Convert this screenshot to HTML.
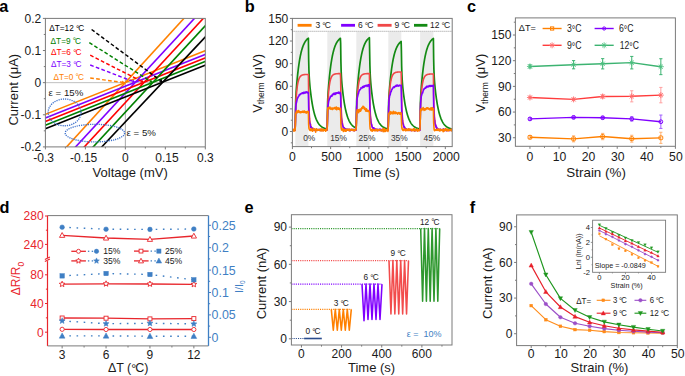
<!DOCTYPE html>
<html><head><meta charset="utf-8"><style>
html,body{margin:0;padding:0;background:#fff;}
svg{display:block;}
text{font-family:"Liberation Sans", sans-serif;}
</style></head><body>
<svg width="685" height="376" viewBox="0 0 685 376" font-family='"Liberation Sans", sans-serif'>
<rect width="685" height="376" fill="#fff"/>
<text x="-0.7" y="11.6" font-size="16.3" text-anchor="start" fill="#000" font-weight="bold" >a</text>
<line x1="125.35" y1="18.4" x2="125.35" y2="146.9" stroke="#a8a8a8" stroke-width="1" />
<line x1="45.4" y1="82.65" x2="205.3" y2="82.65" stroke="#c0c0c0" stroke-width="1" />
<line x1="45.4" y1="146.9" x2="45.4" y2="149.4" stroke="#7a7a7a" stroke-width="1" />
<line x1="65.39" y1="146.9" x2="65.39" y2="148.5" stroke="#7a7a7a" stroke-width="1" />
<line x1="85.38" y1="146.9" x2="85.38" y2="149.4" stroke="#7a7a7a" stroke-width="1" />
<line x1="105.36" y1="146.9" x2="105.36" y2="148.5" stroke="#7a7a7a" stroke-width="1" />
<line x1="125.35" y1="146.9" x2="125.35" y2="149.4" stroke="#7a7a7a" stroke-width="1" />
<line x1="145.34" y1="146.9" x2="145.34" y2="148.5" stroke="#7a7a7a" stroke-width="1" />
<line x1="165.33" y1="146.9" x2="165.33" y2="149.4" stroke="#7a7a7a" stroke-width="1" />
<line x1="185.31" y1="146.9" x2="185.31" y2="148.5" stroke="#7a7a7a" stroke-width="1" />
<line x1="205.3" y1="146.9" x2="205.3" y2="149.4" stroke="#7a7a7a" stroke-width="1" />
<line x1="42.9" y1="146.9" x2="45.4" y2="146.9" stroke="#7a7a7a" stroke-width="1" />
<line x1="43.8" y1="130.84" x2="45.4" y2="130.84" stroke="#7a7a7a" stroke-width="1" />
<line x1="42.9" y1="114.78" x2="45.4" y2="114.78" stroke="#7a7a7a" stroke-width="1" />
<line x1="43.8" y1="98.71" x2="45.4" y2="98.71" stroke="#7a7a7a" stroke-width="1" />
<line x1="42.9" y1="82.65" x2="45.4" y2="82.65" stroke="#7a7a7a" stroke-width="1" />
<line x1="43.8" y1="66.59" x2="45.4" y2="66.59" stroke="#7a7a7a" stroke-width="1" />
<line x1="42.9" y1="50.52" x2="45.4" y2="50.52" stroke="#7a7a7a" stroke-width="1" />
<line x1="43.8" y1="34.46" x2="45.4" y2="34.46" stroke="#7a7a7a" stroke-width="1" />
<line x1="42.9" y1="18.4" x2="45.4" y2="18.4" stroke="#7a7a7a" stroke-width="1" />
<text x="41.3" y="22.6" font-size="12" text-anchor="end" fill="#1a1a1a" font-weight="normal" >0.2</text>
<text x="41.3" y="54.72" font-size="12" text-anchor="end" fill="#1a1a1a" font-weight="normal" >0.1</text>
<text x="41.3" y="86.85" font-size="12" text-anchor="end" fill="#1a1a1a" font-weight="normal" >0</text>
<text x="41.3" y="118.98" font-size="12" text-anchor="end" fill="#1a1a1a" font-weight="normal" >-0.1</text>
<text x="41.3" y="151.1" font-size="12" text-anchor="end" fill="#1a1a1a" font-weight="normal" >-0.2</text>
<text x="43.6" y="162.2" font-size="12" text-anchor="middle" fill="#1a1a1a" font-weight="normal" >-0.3</text>
<text x="83.58" y="162.2" font-size="12" text-anchor="middle" fill="#1a1a1a" font-weight="normal" >-0.15</text>
<text x="125.35" y="162.2" font-size="12" text-anchor="middle" fill="#1a1a1a" font-weight="normal" >0</text>
<text x="166.93" y="162.2" font-size="12" text-anchor="middle" fill="#1a1a1a" font-weight="normal" >0.15</text>
<text x="205.3" y="162.2" font-size="12" text-anchor="middle" fill="#1a1a1a" font-weight="normal" >0.3</text>
<text x="130.2" y="176.9" font-size="13" text-anchor="middle" fill="#1a1a1a" font-weight="normal" >Voltage (mV)</text>
<text x="0" y="0" font-size="13" text-anchor="middle" fill="#1a1a1a" font-weight="normal" transform="translate(17.8,89.7) rotate(-90)">Current (μA)</text>
<clipPath id="ca"><rect x="45.4" y="18.4" width="159.9" height="128.5"/></clipPath>
<g clip-path="url(#ca)">
<line x1="63.77" y1="150" x2="187.02" y2="15" stroke="#ff8000" stroke-width="1.6" />
<line x1="40" y1="116.49" x2="210" y2="48.83" stroke="#ff8000" stroke-width="1.6" />
<line x1="72.73" y1="150" x2="197.61" y2="15" stroke="#8000ff" stroke-width="1.6" />
<line x1="40" y1="120.09" x2="210" y2="52.43" stroke="#8000ff" stroke-width="1.6" />
<line x1="81.43" y1="150" x2="206.44" y2="15" stroke="#ff0000" stroke-width="1.6" />
<line x1="40" y1="123.69" x2="210" y2="56.03" stroke="#ff0000" stroke-width="1.6" />
<line x1="90.33" y1="150" x2="215.21" y2="15" stroke="#008000" stroke-width="1.6" />
<line x1="40" y1="127.29" x2="210" y2="59.63" stroke="#008000" stroke-width="1.6" />
<line x1="98.88" y1="150" x2="226.05" y2="15" stroke="#000000" stroke-width="1.6" />
<line x1="40" y1="130.89" x2="210" y2="63.23" stroke="#000000" stroke-width="1.6" />
</g>
<ellipse cx="64.6" cy="112.4" rx="16.4" ry="13.4" fill="none" stroke="#3f72cc" stroke-width="1.35" stroke-dasharray="1.2 1.0"/>
<ellipse cx="94.9" cy="133.1" rx="29.7" ry="8.8" fill="none" stroke="#3f72cc" stroke-width="1.35" stroke-dasharray="1.2 1.0"/>
<text x="48.6" y="95.5" font-size="9.7" text-anchor="start" fill="#1a1a1a" font-weight="normal" >ε = 15%</text>
<text x="126.6" y="135.6" font-size="9.7" text-anchor="start" fill="#1a1a1a" font-weight="normal" >ε = 5%</text>
<text x="49.2" y="31.15" font-size="8.25" text-anchor="start" fill="#000000" font-weight="normal" >ΔT=12<tspan dx="2.2" dy="0.83" letter-spacing="-1">°</tspan><tspan dy="-0.83">C</tspan></text>
<line x1="91.6" y1="29.5" x2="160.18" y2="80.29" stroke="#000000" stroke-width="1.45" stroke-dasharray="3.7 2.3"/>
<polygon points="162.75,82.19 159.11,81.74 161.25,78.84" fill="#000000"/>
<text x="50.6" y="43.65" font-size="8.25" text-anchor="start" fill="#008000" font-weight="normal" >ΔT=9<tspan dx="2.2" dy="0.83" letter-spacing="-1">°</tspan><tspan dy="-0.83">C</tspan></text>
<line x1="89.3" y1="42.6" x2="149.97" y2="80.9" stroke="#008000" stroke-width="1.45" stroke-dasharray="3.7 2.3"/>
<polygon points="152.67,82.61 149.01,82.42 150.93,79.38" fill="#008000"/>
<text x="51" y="55.35" font-size="8.25" text-anchor="start" fill="#ff0000" font-weight="normal" >ΔT=6<tspan dx="2.2" dy="0.83" letter-spacing="-1">°</tspan><tspan dy="-0.83">C</tspan></text>
<line x1="90.2" y1="55.2" x2="141.11" y2="81.03" stroke="#ff0000" stroke-width="1.45" stroke-dasharray="3.7 2.3"/>
<polygon points="143.96,82.47 140.29,82.63 141.92,79.42" fill="#ff0000"/>
<text x="51" y="67.15" font-size="8.25" text-anchor="start" fill="#8000ff" font-weight="normal" >ΔT=3<tspan dx="2.2" dy="0.83" letter-spacing="-1">°</tspan><tspan dy="-0.83">C</tspan></text>
<line x1="90.2" y1="65" x2="132.37" y2="81.15" stroke="#8000ff" stroke-width="1.45" stroke-dasharray="3.7 2.3"/>
<polygon points="135.36,82.3 131.73,82.83 133.01,79.47" fill="#8000ff"/>
<text x="53.4" y="79.65" font-size="8.25" text-anchor="start" fill="#ff8000" font-weight="normal" >ΔT=0<tspan dx="2.2" dy="0.83" letter-spacing="-1">°</tspan><tspan dy="-0.83">C</tspan></text>
<line x1="90.2" y1="78" x2="122" y2="82.32" stroke="#ff8000" stroke-width="1.45" stroke-dasharray="3.7 2.3"/>
<polygon points="125.17,82.75 121.75,84.11 122.24,80.54" fill="#ff8000"/>
<rect x="45.4" y="18.4" width="159.9" height="128.5" fill="none" stroke="#7a7a7a" stroke-width="1"/>
<text x="244.7" y="11.6" font-size="16.3" text-anchor="start" fill="#000" font-weight="bold" >b</text>
<rect x="295.3" y="31.9" width="13.1" height="114.7" fill="#ebebeb"/>
<rect x="327.3" y="31.9" width="13.3" height="114.7" fill="#ebebeb"/>
<rect x="356.3" y="31.9" width="13.2" height="114.7" fill="#ebebeb"/>
<rect x="388.3" y="31.9" width="13" height="114.7" fill="#ebebeb"/>
<rect x="420.1" y="31.9" width="13.3" height="114.7" fill="#ebebeb"/>
<line x1="292.4" y1="31.3" x2="452.2" y2="31.3" stroke="#8a8a8a" stroke-width="0.9" stroke-dasharray="1 1"/>
<line x1="292.4" y1="146.6" x2="292.4" y2="149.1" stroke="#7a7a7a" stroke-width="1" />
<line x1="311.51" y1="146.6" x2="311.51" y2="148.2" stroke="#7a7a7a" stroke-width="1" />
<line x1="330.63" y1="146.6" x2="330.63" y2="149.1" stroke="#7a7a7a" stroke-width="1" />
<line x1="349.74" y1="146.6" x2="349.74" y2="148.2" stroke="#7a7a7a" stroke-width="1" />
<line x1="368.86" y1="146.6" x2="368.86" y2="149.1" stroke="#7a7a7a" stroke-width="1" />
<line x1="387.97" y1="146.6" x2="387.97" y2="148.2" stroke="#7a7a7a" stroke-width="1" />
<line x1="407.09" y1="146.6" x2="407.09" y2="149.1" stroke="#7a7a7a" stroke-width="1" />
<line x1="426.2" y1="146.6" x2="426.2" y2="148.2" stroke="#7a7a7a" stroke-width="1" />
<line x1="445.32" y1="146.6" x2="445.32" y2="149.1" stroke="#7a7a7a" stroke-width="1" />
<line x1="290.8" y1="142.83" x2="292.4" y2="142.83" stroke="#7a7a7a" stroke-width="1" />
<line x1="289.9" y1="131.52" x2="292.4" y2="131.52" stroke="#7a7a7a" stroke-width="1" />
<line x1="290.8" y1="120.21" x2="292.4" y2="120.21" stroke="#7a7a7a" stroke-width="1" />
<line x1="289.9" y1="108.89" x2="292.4" y2="108.89" stroke="#7a7a7a" stroke-width="1" />
<line x1="290.8" y1="97.58" x2="292.4" y2="97.58" stroke="#7a7a7a" stroke-width="1" />
<line x1="289.9" y1="86.27" x2="292.4" y2="86.27" stroke="#7a7a7a" stroke-width="1" />
<line x1="290.8" y1="74.96" x2="292.4" y2="74.96" stroke="#7a7a7a" stroke-width="1" />
<line x1="289.9" y1="63.65" x2="292.4" y2="63.65" stroke="#7a7a7a" stroke-width="1" />
<line x1="290.8" y1="52.34" x2="292.4" y2="52.34" stroke="#7a7a7a" stroke-width="1" />
<line x1="289.9" y1="41.02" x2="292.4" y2="41.02" stroke="#7a7a7a" stroke-width="1" />
<line x1="290.8" y1="29.71" x2="292.4" y2="29.71" stroke="#7a7a7a" stroke-width="1" />
<line x1="289.9" y1="18.4" x2="292.4" y2="18.4" stroke="#7a7a7a" stroke-width="1" />
<text x="288.3" y="135.72" font-size="12" text-anchor="end" fill="#1a1a1a" font-weight="normal" >0</text>
<text x="288.3" y="113.09" font-size="12" text-anchor="end" fill="#1a1a1a" font-weight="normal" >30</text>
<text x="288.3" y="90.47" font-size="12" text-anchor="end" fill="#1a1a1a" font-weight="normal" >60</text>
<text x="288.3" y="67.85" font-size="12" text-anchor="end" fill="#1a1a1a" font-weight="normal" >90</text>
<text x="288.3" y="45.22" font-size="12" text-anchor="end" fill="#1a1a1a" font-weight="normal" >120</text>
<text x="288.3" y="22.6" font-size="12" text-anchor="end" fill="#1a1a1a" font-weight="normal" >150</text>
<text x="292.4" y="161.4" font-size="12.2" text-anchor="middle" fill="#1a1a1a" font-weight="normal" >0</text>
<text x="331.53" y="161.4" font-size="12.2" text-anchor="middle" fill="#1a1a1a" font-weight="normal" >500</text>
<text x="369.76" y="161.4" font-size="12.2" text-anchor="middle" fill="#1a1a1a" font-weight="normal" >1000</text>
<text x="407.99" y="161.4" font-size="12.2" text-anchor="middle" fill="#1a1a1a" font-weight="normal" >1500</text>
<text x="446.22" y="161.4" font-size="12.2" text-anchor="middle" fill="#1a1a1a" font-weight="normal" >2000</text>
<text x="376.3" y="177.2" font-size="13" text-anchor="middle" fill="#1a1a1a" font-weight="normal" >Time (s)</text>
<text font-size="13" fill="#1a1a1a" text-anchor="middle" transform="translate(261.5,83.4) rotate(-90)">V<tspan font-size="8.5" dy="2.5">therm</tspan><tspan dy="-2.5"> (μV)</tspan></text>
<text x="309.2" y="140.9" font-size="8.4" text-anchor="middle" fill="#333" font-weight="normal" >0%</text>
<text x="338.6" y="140.9" font-size="8.4" text-anchor="middle" fill="#333" font-weight="normal" >15%</text>
<text x="367" y="140.9" font-size="8.4" text-anchor="middle" fill="#333" font-weight="normal" >25%</text>
<text x="399.3" y="140.9" font-size="8.4" text-anchor="middle" fill="#333" font-weight="normal" >35%</text>
<text x="431.9" y="140.9" font-size="8.4" text-anchor="middle" fill="#333" font-weight="normal" >45%</text>
<clipPath id="cb"><rect x="292.4" y="18.4" width="159.8" height="128.2"/></clipPath>
<g clip-path="url(#cb)">
<polyline points="292.4,130.01 292.65,130.01 292.9,130.01 293.15,130.01 293.4,130.01 293.65,130.01 293.9,130.01 294.15,130.01 294.4,130.01 294.65,130.01 294.9,130.01 295.15,130.01 295.4,115.91 295.65,101.33 295.9,95.63 296.15,91.78 296.4,88.43 296.65,85.34 296.9,82.43 297.15,79.7 297.4,77.12 297.65,74.69 297.9,72.4 298.15,70.25 298.4,68.22 298.65,66.3 298.9,64.5 299.15,62.8 299.4,61.2 299.65,59.69 299.9,58.27 300.15,56.93 300.4,55.67 300.65,54.48 300.9,53.36 301.15,52.3 301.4,51.31 301.65,50.37 301.9,49.49 302.15,48.66 302.4,47.87 302.65,47.14 302.9,46.44 303.15,45.78 303.4,45.17 303.65,44.58 303.9,44.04 304.15,43.52 304.4,43.03 304.65,42.57 304.9,42.14 305.15,41.73 305.4,41.35 305.65,40.99 305.9,40.65 306.15,40.33 306.4,40.03 306.65,39.74 306.9,39.47 307.15,39.22 307.4,38.98 307.65,38.76 307.9,38.55 308.15,38.35 308.4,38.16 308.65,58.62 308.9,69.22 309.15,75.43 309.4,79.65 309.65,82.92 309.9,85.71 310.15,88.21 310.4,90.51 310.65,92.67 310.9,94.69 311.15,96.61 311.4,98.41 311.65,100.12 311.9,101.74 312.15,103.26 312.4,104.71 312.65,106.08 312.9,107.37 313.15,108.59 313.4,109.75 313.65,110.85 313.9,111.88 314.15,112.86 314.4,113.79 314.65,114.66 314.9,115.49 315.15,116.28 315.4,117.02 315.65,117.72 315.9,118.39 316.15,119.01 316.4,119.61 316.65,120.17 316.9,120.7 317.15,121.21 317.4,121.68 317.65,122.13 317.9,122.56 318.15,122.96 318.4,123.34 318.65,123.7 318.9,124.04 319.15,124.36 319.4,124.67 319.65,124.96 319.9,125.23 320.15,125.49 320.4,125.73 320.65,125.96 320.9,126.18 321.15,126.39 321.4,126.59 321.65,126.77 321.9,126.95 322.15,127.11 322.4,127.27 322.65,127.42 322.9,127.56 323.15,127.69 323.4,127.81 323.65,127.93 323.9,128.04 324.15,128.15 324.4,128.25 324.65,128.35 324.9,128.44 325.15,128.52 325.4,128.6 325.65,128.68 325.9,128.75 326.15,128.82 326.4,128.88 326.65,128.94 326.9,129 327.15,129.06 327.4,115.93 327.65,101.37 327.9,95.68 328.15,91.84 328.4,88.5 328.65,85.41 328.9,82.51 329.15,79.78 329.4,77.2 329.65,74.78 329.9,72.49 330.15,70.34 330.4,68.31 330.65,66.4 330.9,64.6 331.15,62.9 331.4,61.31 331.65,59.8 331.9,58.38 332.15,57.04 332.4,55.78 332.65,54.6 332.9,53.48 333.15,52.42 333.4,51.43 333.65,50.5 333.9,49.61 334.15,48.78 334.4,48 334.65,47.26 334.9,46.57 335.15,45.91 335.4,45.3 335.65,44.72 335.9,44.17 336.15,43.65 336.4,43.17 336.65,42.71 336.9,42.28 337.15,41.87 337.4,41.49 337.65,41.13 337.9,40.79 338.15,40.47 338.4,40.17 338.65,39.88 338.9,39.61 339.15,39.36 339.4,39.12 339.65,38.9 339.9,38.69 340.15,38.49 340.4,38.3 340.65,43.49 340.9,61.29 341.15,70.7 341.4,76.39 341.65,80.36 341.9,83.51 342.15,86.23 342.4,88.68 342.65,90.95 342.9,93.08 343.15,95.08 343.4,96.97 343.65,98.76 343.9,100.45 344.15,102.05 344.4,103.56 344.65,104.99 344.9,106.34 345.15,107.62 345.4,108.83 345.65,109.97 345.9,111.06 346.15,112.08 346.4,113.05 346.65,113.97 346.9,114.83 347.15,115.65 347.4,116.43 347.65,117.16 347.9,117.86 348.15,118.51 348.4,119.14 348.65,119.72 348.9,120.28 349.15,120.8 349.4,121.3 349.65,121.77 349.9,122.22 350.15,122.64 350.4,123.04 350.65,123.41 350.9,123.77 351.15,124.11 351.4,124.43 351.65,124.73 351.9,125.01 352.15,125.28 352.4,125.54 352.65,125.78 352.9,126.01 353.15,126.23 353.4,126.43 353.65,126.62 353.9,126.81 354.15,126.98 354.4,127.14 354.65,127.3 354.9,127.44 355.15,127.58 355.4,127.71 355.65,127.84 355.9,127.96 356.15,128.07 356.4,115.84 356.65,101.19 356.9,95.46 357.15,91.59 357.4,88.23 357.65,85.12 357.9,82.2 358.15,79.45 358.4,76.86 358.65,74.42 358.9,72.12 359.15,69.95 359.4,67.91 359.65,65.99 359.9,64.17 360.15,62.47 360.4,60.86 360.65,59.34 360.9,57.91 361.15,56.57 361.4,55.3 361.65,54.1 361.9,52.98 362.15,51.92 362.4,50.92 362.65,49.98 362.9,49.09 363.15,48.25 363.4,47.47 363.65,46.72 363.9,46.03 364.15,45.37 364.4,44.75 364.65,44.16 364.9,43.61 365.15,43.09 365.4,42.6 365.65,42.14 365.9,41.71 366.15,41.3 366.4,40.91 366.65,40.55 366.9,40.21 367.15,39.88 367.4,39.58 367.65,39.29 367.9,39.02 368.15,38.77 368.4,38.53 368.65,38.3 368.9,38.09 369.15,37.89 369.4,37.7 369.65,51.65 369.9,65.34 370.15,72.95 370.4,77.82 370.65,81.41 370.9,84.38 371.15,86.99 371.4,89.38 371.65,91.6 371.9,93.69 372.15,95.66 372.4,97.52 372.65,99.27 372.9,100.93 373.15,102.51 373.4,103.99 373.65,105.4 373.9,106.73 374.15,107.99 374.4,109.18 374.65,110.3 374.9,111.37 375.15,112.37 375.4,113.33 375.65,114.23 375.9,115.08 376.15,115.89 376.4,116.65 376.65,117.37 376.9,118.06 377.15,118.7 377.4,119.31 377.65,119.89 377.9,120.44 378.15,120.96 378.4,121.44 378.65,121.91 378.9,122.35 379.15,122.76 379.4,123.15 379.65,123.52 379.9,123.87 380.15,124.2 380.4,124.52 380.65,124.81 380.9,125.1 381.15,125.36 381.4,125.61 381.65,125.85 381.9,126.07 382.15,126.29 382.4,126.49 382.65,126.68 382.9,126.86 383.15,127.03 383.4,127.19 383.65,127.34 383.9,127.49 384.15,127.62 384.4,127.75 384.65,127.87 384.9,127.99 385.15,128.1 385.4,128.2 385.65,128.3 385.9,128.39 386.15,128.48 386.4,128.56 386.65,128.64 386.9,128.71 387.15,128.78 387.4,128.85 387.65,128.91 387.9,128.97 388.15,129.03 388.4,116.4 388.65,102.32 388.9,96.82 389.15,93.1 389.4,89.87 389.65,86.88 389.9,84.08 390.15,81.43 390.4,78.95 390.65,76.6 390.9,74.39 391.15,72.31 391.4,70.35 391.65,68.5 391.9,66.76 392.15,65.12 392.4,63.57 392.65,62.12 392.9,60.75 393.15,59.45 393.4,58.24 393.65,57.09 393.9,56.01 394.15,54.99 394.4,54.03 394.65,53.12 394.9,52.27 395.15,51.47 395.4,50.71 395.65,50 395.9,49.33 396.15,48.69 396.4,48.1 396.65,47.53 396.9,47 397.15,46.51 397.4,46.04 397.65,45.59 397.9,45.18 398.15,44.78 398.4,44.41 398.65,44.06 398.9,43.73 399.15,43.42 399.4,43.13 399.65,42.86 399.9,42.6 400.15,42.35 400.4,42.12 400.65,41.91 400.9,41.7 401.15,41.51 401.4,50.99 401.65,65.98 401.9,74.09 402.15,79.14 402.4,82.77 402.65,85.7 402.9,88.26 403.15,90.59 403.4,92.75 403.65,94.78 403.9,96.69 404.15,98.49 404.4,100.2 404.65,101.81 404.9,103.33 405.15,104.78 405.4,106.14 405.65,107.43 405.9,108.65 406.15,109.8 406.4,110.9 406.65,111.93 406.9,112.91 407.15,113.83 407.4,114.7 407.65,115.53 407.9,116.31 408.15,117.05 408.4,117.75 408.65,118.42 408.9,119.04 409.15,119.64 409.4,120.2 409.65,120.73 409.9,121.23 410.15,121.7 410.4,122.15 410.65,122.58 410.9,122.98 411.15,123.36 411.4,123.72 411.65,124.06 411.9,124.38 412.15,124.68 412.4,124.97 412.65,125.24 412.9,125.5 413.15,125.74 413.4,125.97 413.65,126.19 413.9,126.4 414.15,126.59 414.4,126.78 414.65,126.95 414.9,127.12 415.15,127.27 415.4,127.42 415.65,127.56 415.9,127.69 416.15,127.82 416.4,127.94 416.65,128.05 416.9,128.16 417.15,128.26 417.4,128.35 417.65,128.44 417.9,128.53 418.15,128.61 418.4,128.68 418.65,128.75 418.9,128.82 419.15,128.89 419.4,128.95 419.65,129 419.9,129.06 420.15,121.96 420.4,103.2 420.65,96.69 420.9,92.67 421.15,89.28 421.4,86.16 421.65,83.23 421.9,80.47 422.15,77.88 422.4,75.43 422.65,73.13 422.9,70.96 423.15,68.91 423.4,66.98 423.65,65.17 423.9,63.45 424.15,61.84 424.4,60.32 424.65,58.89 424.9,57.54 425.15,56.27 425.4,55.08 425.65,53.95 425.9,52.88 426.15,51.88 426.4,50.94 426.65,50.05 426.9,49.21 427.15,48.42 427.4,47.68 427.65,46.98 427.9,46.32 428.15,45.7 428.4,45.11 428.65,44.56 428.9,44.04 429.15,43.55 429.4,43.09 429.65,42.65 429.9,42.24 430.15,41.85 430.4,41.49 430.65,41.15 430.9,40.82 431.15,40.52 431.4,40.23 431.65,39.96 431.9,39.71 432.15,39.47 432.4,39.24 432.65,39.03 432.9,38.83 433.15,38.64 433.4,38.46 433.65,58.86 433.9,69.42 434.15,75.61 434.4,79.82 434.65,83.08 434.9,85.85 435.15,88.35 435.4,90.64 435.65,92.79 435.9,94.81 436.15,96.71 436.4,98.52 436.65,100.22 436.9,101.83 437.15,103.35 437.4,104.79 437.65,106.16 437.9,107.44 438.15,108.66 438.4,109.82 438.65,110.91 438.9,111.94 439.15,112.92 439.4,113.84 439.65,114.71 439.9,115.54 440.15,116.32 440.4,117.06 440.65,117.76 440.9,118.42 441.15,119.05 441.4,119.64 441.65,120.2 441.9,120.73 442.15,121.23 442.4,121.71 442.65,122.16 442.9,122.58 443.15,122.98 443.4,123.36 443.65,123.72 443.9,124.06 444.15,124.38 444.4,124.69 444.65,124.97 444.9,125.25 445.15,125.5 445.4,125.75 445.65,125.98 445.9,126.2 446.15,126.4 446.4,126.6 446.65,126.78 446.9,126.96 447.15,127.12 447.4,127.28 447.65,127.42 447.9,127.56 448.15,127.7 448.4,127.82 448.65,127.94 448.9,128.05 449.15,128.16 449.4,128.26 449.65,128.35 449.9,128.44 450.15,128.53 450.4,128.61 450.65,128.68 450.9,128.75 451.15,128.82 451.4,128.89 451.65,128.95 451.9,129 452.15,129.06" fill="none" stroke="#138a13" stroke-width="1.7" stroke-linejoin="round" />
<polyline points="292.4,130.01 292.65,130.01 292.9,130.01 293.15,130.01 293.4,130.01 293.65,130.01 293.9,130.01 294.15,130.01 294.4,130.01 294.65,130.01 294.9,130.01 295.15,130.01 295.4,121.22 295.65,108.99 295.9,102.59 296.15,98.26 296.4,94.86 296.65,92.02 296.9,89.6 297.15,87.52 297.4,85.73 297.65,84.18 297.9,82.85 298.15,81.69 298.4,80.7 298.65,79.84 298.9,79.1 299.15,78.46 299.4,77.9 299.65,77.43 299.9,77.01 300.15,76.66 300.4,76.35 300.65,76.09 300.9,75.86 301.15,75.66 301.4,75.49 301.65,75.34 301.9,75.22 302.15,75.11 302.4,75.01 302.65,74.93 302.9,74.86 303.15,74.8 303.4,74.75 303.65,74.7 303.9,74.66 304.15,74.63 304.4,74.6 304.65,74.57 304.9,74.55 305.15,74.53 305.4,74.52 305.65,74.5 305.9,74.49 306.15,74.48 306.4,74.47 306.65,74.46 306.9,74.46 307.15,74.45 307.4,74.44 307.65,74.44 307.9,74.44 308.15,74.43 308.4,74.43 308.65,95 308.9,105.84 309.15,112.12 309.4,116.14 309.65,118.95 309.9,121.06 310.15,122.7 310.4,124.01 310.65,125.07 310.9,125.94 311.15,126.66 311.4,127.24 311.65,127.73 311.9,128.13 312.15,128.46 312.4,128.73 312.65,128.95 312.9,129.14 313.15,129.29 313.4,129.42 313.65,129.52 313.9,129.61 314.15,129.68 314.4,129.73 314.65,129.78 314.9,129.82 315.15,129.85 315.4,129.88 315.65,129.9 315.9,129.92 316.15,129.94 316.4,129.95 316.65,129.96 316.9,129.97 317.15,129.98 317.4,129.98 317.65,129.99 317.9,129.99 318.15,129.99 318.4,130 318.65,130 318.9,130 319.15,130 319.4,130 319.65,130 319.9,130.01 320.15,130.01 320.4,130.01 320.65,130.01 320.9,130.01 321.15,130.01 321.4,130.01 321.65,130.01 321.9,130.01 322.15,130.01 322.4,130.01 322.65,130.01 322.9,130.01 323.15,130.01 323.4,130.01 323.65,130.01 323.9,130.01 324.15,130.01 324.4,130.01 324.65,130.01 324.9,130.01 325.15,130.01 325.4,130.01 325.65,130.01 325.9,130.01 326.15,130.01 326.4,130.01 326.65,130.01 326.9,130.01 327.15,130.01 327.4,121.09 327.65,108.67 327.9,102.18 328.15,97.78 328.4,94.33 328.65,91.46 328.9,89 329.15,86.89 329.4,85.07 329.65,83.5 329.9,82.14 330.15,80.97 330.4,79.96 330.65,79.09 330.9,78.34 331.15,77.69 331.4,77.13 331.65,76.64 331.9,76.22 332.15,75.86 332.4,75.55 332.65,75.28 332.9,75.05 333.15,74.85 333.4,74.68 333.65,74.53 333.9,74.4 334.15,74.29 334.4,74.19 334.65,74.11 334.9,74.04 335.15,73.98 335.4,73.92 335.65,73.88 335.9,73.84 336.15,73.8 336.4,73.77 336.65,73.75 336.9,73.72 337.15,73.71 337.4,73.69 337.65,73.68 337.9,73.66 338.15,73.65 338.4,73.64 338.65,73.64 338.9,73.63 339.15,73.62 339.4,73.62 339.65,73.61 339.9,73.61 340.15,73.61 340.4,73.6 340.65,79 340.9,97.24 341.15,107.03 341.4,112.81 341.65,116.58 341.9,119.26 342.15,121.29 342.4,122.88 342.65,124.15 342.9,125.19 343.15,126.04 343.4,126.73 343.65,127.31 343.9,127.78 344.15,128.17 344.4,128.49 344.65,128.76 344.9,128.98 345.15,129.16 345.4,129.31 345.65,129.43 345.9,129.53 346.15,129.61 346.4,129.68 346.65,129.74 346.9,129.79 347.15,129.83 347.4,129.86 347.65,129.88 347.9,129.91 348.15,129.92 348.4,129.94 348.65,129.95 348.9,129.96 349.15,129.97 349.4,129.98 349.65,129.98 349.9,129.99 350.15,129.99 350.4,129.99 350.65,130 350.9,130 351.15,130 351.4,130 351.65,130 351.9,130 352.15,130.01 352.4,130.01 352.65,130.01 352.9,130.01 353.15,130.01 353.4,130.01 353.65,130.01 353.9,130.01 354.15,130.01 354.4,130.01 354.65,130.01 354.9,130.01 355.15,130.01 355.4,130.01 355.65,130.01 355.9,130.01 356.15,130.01 356.4,121.09 356.65,108.67 356.9,102.18 357.15,97.78 357.4,94.33 357.65,91.46 357.9,89 358.15,86.89 358.4,85.07 358.65,83.5 358.9,82.14 359.15,80.97 359.4,79.96 359.65,79.09 359.9,78.34 360.15,77.69 360.4,77.13 360.65,76.64 360.9,76.22 361.15,75.86 361.4,75.55 361.65,75.28 361.9,75.05 362.15,74.85 362.4,74.68 362.65,74.53 362.9,74.4 363.15,74.29 363.4,74.19 363.65,74.11 363.9,74.04 364.15,73.97 364.4,73.92 364.65,73.88 364.9,73.84 365.15,73.8 365.4,73.77 365.65,73.75 365.9,73.72 366.15,73.7 366.4,73.69 366.65,73.67 366.9,73.66 367.15,73.65 367.4,73.64 367.65,73.63 367.9,73.63 368.15,73.62 368.4,73.62 368.65,73.61 368.9,73.61 369.15,73.61 369.4,73.6 369.65,87.77 369.9,101.84 370.15,109.67 370.4,114.49 370.65,117.75 370.9,120.14 371.15,121.97 371.4,123.42 371.65,124.59 371.9,125.55 372.15,126.33 372.4,126.98 372.65,127.51 372.9,127.95 373.15,128.31 373.4,128.61 373.65,128.85 373.9,129.05 374.15,129.22 374.4,129.36 374.65,129.47 374.9,129.57 375.15,129.64 375.4,129.71 375.65,129.76 375.9,129.8 376.15,129.84 376.4,129.87 376.65,129.89 376.9,129.91 377.15,129.93 377.4,129.94 377.65,129.96 377.9,129.97 378.15,129.97 378.4,129.98 378.65,129.98 378.9,129.99 379.15,129.99 379.4,130 379.65,130 379.9,130 380.15,130 380.4,130 380.65,130 380.9,130.01 381.15,130.01 381.4,130.01 381.65,130.01 381.9,130.01 382.15,130.01 382.4,130.01 382.65,130.01 382.9,130.01 383.15,130.01 383.4,130.01 383.65,130.01 383.9,130.01 384.15,130.01 384.4,130.01 384.65,130.01 384.9,130.01 385.15,130.01 385.4,130.01 385.65,130.01 385.9,130.01 386.15,130.01 386.4,130.01 386.65,130.01 386.9,130.01 387.15,130.01 387.4,130.01 387.65,130.01 387.9,130.01 388.15,130.01 388.4,120.83 388.65,108.05 388.9,101.36 389.15,96.83 389.4,93.28 389.65,90.32 389.9,87.79 390.15,85.62 390.4,83.75 390.65,82.13 390.9,80.73 391.15,79.53 391.4,78.49 391.65,77.59 391.9,76.81 392.15,76.15 392.4,75.57 392.65,75.07 392.9,74.64 393.15,74.27 393.4,73.95 393.65,73.67 393.9,73.43 394.15,73.23 394.4,73.05 394.65,72.89 394.9,72.76 395.15,72.65 395.4,72.55 395.65,72.46 395.9,72.39 396.15,72.32 396.4,72.27 396.65,72.22 396.9,72.18 397.15,72.15 397.4,72.12 397.65,72.09 397.9,72.07 398.15,72.05 398.4,72.03 398.65,72.02 398.9,72 399.15,71.99 399.4,71.98 399.65,71.97 399.9,71.97 400.15,71.96 400.4,71.96 400.65,71.95 400.9,71.95 401.15,71.94 401.4,82.32 401.65,98.79 401.9,107.78 402.15,113.2 402.4,116.81 402.65,119.41 402.9,121.39 403.15,122.95 403.4,124.21 403.65,125.24 403.9,126.08 404.15,126.77 404.4,127.33 404.65,127.8 404.9,128.19 405.15,128.51 405.4,128.77 405.65,128.99 405.9,129.17 406.15,129.31 406.4,129.44 406.65,129.54 406.9,129.62 407.15,129.69 407.4,129.74 407.65,129.79 407.9,129.83 408.15,129.86 408.4,129.89 408.65,129.91 408.9,129.93 409.15,129.94 409.4,129.95 409.65,129.96 409.9,129.97 410.15,129.98 410.4,129.98 410.65,129.99 410.9,129.99 411.15,129.99 411.4,130 411.65,130 411.9,130 412.15,130 412.4,130 412.65,130 412.9,130.01 413.15,130.01 413.4,130.01 413.65,130.01 413.9,130.01 414.15,130.01 414.4,130.01 414.65,130.01 414.9,130.01 415.15,130.01 415.4,130.01 415.65,130.01 415.9,130.01 416.15,130.01 416.4,130.01 416.65,130.01 416.9,130.01 417.15,130.01 417.4,130.01 417.65,130.01 417.9,130.01 418.15,130.01 418.4,130.01 418.65,130.01 418.9,130.01 419.15,130.01 419.4,130.01 419.65,130.01 419.9,130.01 420.15,125.15 420.4,110.6 420.65,103.43 420.9,98.78 421.15,95.21 421.4,92.25 421.65,89.73 421.9,87.57 422.15,85.71 422.4,84.1 422.65,82.72 422.9,81.52 423.15,80.49 423.4,79.59 423.65,78.82 423.9,78.16 424.15,77.59 424.4,77.09 424.65,76.66 424.9,76.29 425.15,75.97 425.4,75.7 425.65,75.46 425.9,75.26 426.15,75.08 426.4,74.93 426.65,74.8 426.9,74.68 427.15,74.58 427.4,74.5 427.65,74.43 427.9,74.36 428.15,74.31 428.4,74.26 428.65,74.22 428.9,74.18 429.15,74.15 429.4,74.13 429.65,74.11 429.9,74.09 430.15,74.07 430.4,74.05 430.65,74.04 430.9,74.03 431.15,74.02 431.4,74.01 431.65,74.01 431.9,74 432.15,74 432.4,73.99 432.65,73.99 432.9,73.98 433.15,73.98 433.4,73.98 433.65,94.72 433.9,105.65 434.15,111.98 434.4,116.03 434.65,118.86 434.9,120.98 435.15,122.64 435.4,123.96 435.65,125.03 435.9,125.91 436.15,126.63 436.4,127.22 436.65,127.71 436.9,128.11 437.15,128.44 437.4,128.72 437.65,128.94 437.9,129.13 438.15,129.28 438.4,129.41 438.65,129.52 438.9,129.6 439.15,129.67 439.4,129.73 439.65,129.78 439.9,129.82 440.15,129.85 440.4,129.88 440.65,129.9 440.9,129.92 441.15,129.94 441.4,129.95 441.65,129.96 441.9,129.97 442.15,129.98 442.4,129.98 442.65,129.99 442.9,129.99 443.15,129.99 443.4,130 443.65,130 443.9,130 444.15,130 444.4,130 444.65,130 444.9,130.01 445.15,130.01 445.4,130.01 445.65,130.01 445.9,130.01 446.15,130.01 446.4,130.01 446.65,130.01 446.9,130.01 447.15,130.01 447.4,130.01 447.65,130.01 447.9,130.01 448.15,130.01 448.4,130.01 448.65,130.01 448.9,130.01 449.15,130.01 449.4,130.01 449.65,130.01 449.9,130.01 450.15,130.01 450.4,130.01 450.65,130.01 450.9,130.01 451.15,130.01 451.4,130.01 451.65,130.01 451.9,130.01 452.15,130.01" fill="none" stroke="#f04848" stroke-width="1.6" stroke-linejoin="round" />
<polyline points="292.4,130.11 292.65,129.82 292.9,130.09 293.15,130.13 293.4,130.36 293.65,130.09 293.9,129.59 294.15,129.85 294.4,129.62 294.65,129.92 294.9,129.86 295.15,129.94 295.4,122.57 295.65,110.63 295.9,105.98 296.15,103.55 296.4,102.87 296.65,101.79 296.9,100.57 297.15,99.63 297.4,98.64 297.65,98.15 297.9,97.37 298.15,97.3 298.4,96.48 298.65,96.03 298.9,96.05 299.15,94.82 299.4,94.95 299.65,94.42 299.9,94.86 300.15,94.67 300.4,94.32 300.65,94.04 300.9,93.59 301.15,93.59 301.4,93.71 301.65,93.78 301.9,93.5 302.15,92.74 302.4,93.41 302.65,92.93 302.9,92.79 303.15,93.44 303.4,92.8 303.65,92.27 303.9,93.47 304.15,92.78 304.4,92.66 304.65,92.89 304.9,92.36 305.15,92.54 305.4,93.04 305.65,92.15 305.9,92.19 306.15,92.06 306.4,91.86 306.65,92.25 306.9,92.32 307.15,92.85 307.4,92.11 307.65,92.56 307.9,92.49 308.15,92.79 308.4,92.67 308.65,107.48 308.9,114.22 309.15,119.48 309.4,121.68 309.65,122.66 309.9,123.41 310.15,124.67 310.4,126.38 310.65,127.25 310.9,126.71 311.15,127.58 311.4,128.12 311.65,127.66 311.9,127.9 312.15,128.5 312.4,128.68 312.65,128.79 312.9,128.5 313.15,129 313.4,129.15 313.65,129.24 313.9,130.12 314.15,129.11 314.4,129.29 314.65,129.51 314.9,130.49 315.15,130.03 315.4,129.5 315.65,130.53 315.9,129.94 316.15,129.51 316.4,130.4 316.65,129.32 316.9,129.73 317.15,130 317.4,129.83 317.65,129.72 317.9,129.92 318.15,129.54 318.4,130.23 318.65,130.14 318.9,129.6 319.15,129.98 319.4,130.33 319.65,129.64 319.9,129.45 320.15,130.17 320.4,130.52 320.65,130.05 320.9,130.06 321.15,130.12 321.4,129.48 321.65,130.39 321.9,129.53 322.15,130.48 322.4,130.3 322.65,129.77 322.9,129.58 323.15,129.68 323.4,129.88 323.65,129.95 323.9,129.95 324.15,129.79 324.4,130.08 324.65,129.9 324.9,129.79 325.15,130.01 325.4,129.72 325.65,129.8 325.9,129.25 326.15,129.89 326.4,130.17 326.65,130.15 326.9,130.01 327.15,129.66 327.4,122.2 327.65,111.12 327.9,105.86 328.15,105.13 328.4,103.11 328.65,101.51 328.9,100.56 329.15,99.85 329.4,99.42 329.65,98.4 329.9,97.98 330.15,97.79 330.4,96.22 330.65,96.59 330.9,96.57 331.15,96.06 331.4,95.8 331.65,95.47 331.9,96.22 332.15,95.15 332.4,94.39 332.65,95.02 332.9,94.44 333.15,93.91 333.4,93.81 333.65,93.44 333.9,94.54 334.15,93.93 334.4,93.83 334.65,93.39 334.9,93.13 335.15,94.49 335.4,93.01 335.65,93.91 335.9,93.05 336.15,93.83 336.4,93.16 336.65,92.74 336.9,93.21 337.15,93.05 337.4,92.8 337.65,93.02 337.9,93.08 338.15,92.45 338.4,92.61 338.65,93.1 338.9,91.94 339.15,93.4 339.4,92.61 339.65,93.04 339.9,92.88 340.15,92.66 340.4,92.83 340.65,96.54 340.9,110.09 341.15,116.5 341.4,119.23 341.65,122 341.9,123.52 342.15,124.8 342.4,124.66 342.65,125.58 342.9,125.92 343.15,127.34 343.4,127.43 343.65,128.23 343.9,127.83 344.15,127.8 344.4,128.96 344.65,128.24 344.9,128.63 345.15,129.21 345.4,130.01 345.65,128.85 345.9,129.51 346.15,129.77 346.4,129.46 346.65,129.52 346.9,129.16 347.15,130.15 347.4,129.37 347.65,129.27 347.9,129.31 348.15,129.95 348.4,130.18 348.65,129.53 348.9,129.88 349.15,129.89 349.4,129.41 349.65,130.06 349.9,130.83 350.15,130.12 350.4,130.68 350.65,129.67 350.9,129.87 351.15,130.22 351.4,130 351.65,129.68 351.9,129.97 352.15,129.5 352.4,130.02 352.65,129.61 352.9,129.44 353.15,129.4 353.4,130.26 353.65,129.67 353.9,130.71 354.15,130.41 354.4,130.75 354.65,129.6 354.9,130.47 355.15,130.01 355.4,130.08 355.65,130.02 355.9,130.23 356.15,129.92 356.4,119.82 356.65,107.51 356.9,101.68 357.15,98.63 357.4,97.31 357.65,96.41 357.9,95.08 358.15,93.55 358.4,93.75 358.65,92.62 358.9,91.35 359.15,90.83 359.4,90.58 359.65,89.79 359.9,89.59 360.15,89.69 360.4,89.47 360.65,88.8 360.9,87.91 361.15,88.2 361.4,88.08 361.65,87.81 361.9,87.9 362.15,87.19 362.4,87.42 362.65,86.69 362.9,87.59 363.15,86.45 363.4,86.71 363.65,87.1 363.9,86.01 364.15,86.3 364.4,86.96 364.65,86.39 364.9,85.89 365.15,86.12 365.4,85.6 365.65,85.57 365.9,85.56 366.15,85.65 366.4,85.24 366.65,85.46 366.9,85.51 367.15,86.44 367.4,85.3 367.65,85.12 367.9,85.71 368.15,85.76 368.4,84.84 368.65,86.22 368.9,85.36 369.15,84.62 369.4,85.87 369.65,97.35 369.9,108.4 370.15,115.14 370.4,118.33 370.65,120.42 370.9,122.68 371.15,123.59 371.4,124.42 371.65,125.03 371.9,126.04 372.15,126.68 372.4,127.49 372.65,127.66 372.9,127.55 373.15,128.15 373.4,128.78 373.65,129 373.9,127.87 374.15,128.61 374.4,128.94 374.65,130.28 374.9,129.17 375.15,129.31 375.4,128.93 375.65,129.47 375.9,129.71 376.15,129.53 376.4,130.5 376.65,129.42 376.9,129.71 377.15,130.12 377.4,129.38 377.65,129.22 377.9,130.44 378.15,130.18 378.4,129.83 378.65,129.88 378.9,130.11 379.15,130.33 379.4,129.17 379.65,129.59 379.9,130.43 380.15,130.49 380.4,129.35 380.65,129.62 380.9,129.31 381.15,129.69 381.4,130.33 381.65,129.9 381.9,130.82 382.15,130.28 382.4,130.03 382.65,129.81 382.9,130.28 383.15,130.05 383.4,129.83 383.65,129.86 383.9,129.77 384.15,129.93 384.4,130.13 384.65,129.71 384.9,129.99 385.15,130.32 385.4,130.24 385.65,130.01 385.9,130.05 386.15,129.95 386.4,130.01 386.65,129.94 386.9,130.06 387.15,130.48 387.4,129.85 387.65,129.61 387.9,129.85 388.15,130.08 388.4,120.32 388.65,107.89 388.9,102.59 389.15,98.98 389.4,97.58 389.65,95.65 389.9,95.28 390.15,94.94 390.4,93.52 390.65,91.79 390.9,91.87 391.15,91.64 391.4,90.87 391.65,89.89 391.9,89.46 392.15,89.18 392.4,88.32 392.65,88.28 392.9,88.26 393.15,87.76 393.4,87.11 393.65,87.15 393.9,86.93 394.15,87.54 394.4,87.03 394.65,86.55 394.9,86.8 395.15,86.17 395.4,86.24 395.65,86.02 395.9,86.35 396.15,85.23 396.4,85.65 396.65,86.13 396.9,85.96 397.15,84.96 397.4,86.02 397.65,85.51 397.9,85.43 398.15,85.76 398.4,86.17 398.65,85.63 398.9,85.54 399.15,85.22 399.4,85.33 399.65,85.6 399.9,85.27 400.15,85.37 400.4,85.48 400.65,85.52 400.9,85.63 401.15,85.26 401.4,94.56 401.65,107.63 401.9,114.16 402.15,118.53 402.4,120.54 402.65,122.82 402.9,123.59 403.15,124.14 403.4,124.98 403.65,125.92 403.9,126.59 404.15,127.54 404.4,126.76 404.65,127.62 404.9,127.72 405.15,128.74 405.4,128.71 405.65,129.52 405.9,128.71 406.15,128.8 406.4,129.99 406.65,129.4 406.9,129.23 407.15,130.21 407.4,130.3 407.65,130.07 407.9,129.96 408.15,130.29 408.4,129.79 408.65,129.74 408.9,129.62 409.15,129.61 409.4,129.33 409.65,129.47 409.9,130.42 410.15,130.13 410.4,130.35 410.65,130.36 410.9,130 411.15,129.97 411.4,129.79 411.65,130.58 411.9,130.45 412.15,130 412.4,130.07 412.65,130.11 412.9,130.02 413.15,130.29 413.4,129.74 413.65,129.87 413.9,130.04 414.15,130.26 414.4,130.07 414.65,131.03 414.9,130.38 415.15,129.99 415.4,130.57 415.65,129.93 415.9,129.95 416.15,130.53 416.4,130.1 416.65,130.13 416.9,129.83 417.15,129.78 417.4,130.02 417.65,130.33 417.9,130.06 418.15,130.03 418.4,129.73 418.65,129.9 418.9,130.28 419.15,130.52 419.4,130.15 419.65,130.29 419.9,130.43 420.15,124.9 420.4,109.66 420.65,102.9 420.9,99.53 421.15,97.98 421.4,95.59 421.65,95.49 421.9,94.02 422.15,93.56 422.4,92.44 422.65,93.08 422.9,91.86 423.15,90.93 423.4,90.3 423.65,89.2 423.9,89.55 424.15,88.82 424.4,88.68 424.65,88.31 424.9,88.21 425.15,88.21 425.4,87.74 425.65,88.13 425.9,87.1 426.15,87.76 426.4,87.14 426.65,86.29 426.9,87.06 427.15,86.85 427.4,86.32 427.65,86.66 427.9,86.89 428.15,86.42 428.4,86.23 428.65,86.12 428.9,86.62 429.15,85.62 429.4,85.61 429.65,86.19 429.9,86.06 430.15,86.29 430.4,85.56 430.65,86.33 430.9,85.79 431.15,86.2 431.4,86.26 431.65,85.71 431.9,85.46 432.15,85.95 432.4,86.19 432.65,85.62 432.9,85.93 433.15,85.79 433.4,85.32 433.65,102.99 433.9,112.3 434.15,115.93 434.4,119.62 434.65,121.22 434.9,123.16 435.15,124.04 435.4,125.58 435.65,125 435.9,125.79 436.15,127.3 436.4,127.87 436.65,128.31 436.9,127.59 437.15,128.49 437.4,128.58 437.65,128.89 437.9,129 438.15,129.51 438.4,129.22 438.65,129.89 438.9,129.47 439.15,129.41 439.4,129.42 439.65,129.74 439.9,130.05 440.15,129.69 440.4,129.97 440.65,129.23 440.9,129.56 441.15,129.91 441.4,130.07 441.65,130.17 441.9,130.28 442.15,130.07 442.4,129.83 442.65,129.76 442.9,129.75 443.15,129.18 443.4,130.24 443.65,129.98 443.9,128.93 444.15,130.69 444.4,130.19 444.65,129.93 444.9,129.94 445.15,129.84 445.4,130.09 445.65,129.86 445.9,129.98 446.15,129.71 446.4,130.72 446.65,130.34 446.9,130.01 447.15,130.4 447.4,130.4 447.65,129.77 447.9,130.25 448.15,129.77 448.4,129.73 448.65,129.89 448.9,129.82 449.15,130.05 449.4,130.54 449.65,130.02 449.9,129.84 450.15,130.21 450.4,130.05 450.65,129.73 450.9,130.34 451.15,129.77 451.4,129.31 451.65,130.22 451.9,129.95 452.15,130.07" fill="none" stroke="#8000ff" stroke-width="1.6" stroke-linejoin="round" />
<polyline points="292.4,129.08 292.65,129.82 292.9,129.47 293.15,130.43 293.4,130.02 293.65,130.02 293.9,131.08 294.15,129.14 294.4,129.47 294.65,131.06 294.9,129.56 295.15,130.09 295.4,120.93 295.65,113.44 295.9,113.15 296.15,112.1 296.4,111.02 296.65,112.26 296.9,112.53 297.15,112.73 297.4,112.65 297.65,111.71 297.9,110.89 298.15,111.65 298.4,111.76 298.65,110.56 298.9,112.22 299.15,112.32 299.4,111.59 299.65,111.58 299.9,112.52 300.15,112.62 300.4,111.74 300.65,111.76 300.9,112.7 301.15,112.03 301.4,112.24 301.65,111.63 301.9,111.98 302.15,111.96 302.4,112.12 302.65,111.27 302.9,111.07 303.15,112.13 303.4,111.4 303.65,112.37 303.9,111.87 304.15,111.46 304.4,111 304.65,112.14 304.9,111.96 305.15,111.79 305.4,112.81 305.65,111.9 305.9,112.32 306.15,111.69 306.4,112.59 306.65,113.1 306.9,111.89 307.15,111.75 307.4,112.24 307.65,111.37 307.9,112.08 308.15,112.28 308.4,111.62 308.65,124.3 308.9,127.97 309.15,129.12 309.4,129.17 309.65,129.99 309.9,129.78 310.15,130.39 310.4,129.82 310.65,129 310.9,130.42 311.15,128.58 311.4,130.4 311.65,130 311.9,129.9 312.15,129.39 312.4,130.76 312.65,131.28 312.9,129.64 313.15,129.53 313.4,129.63 313.65,128.42 313.9,129.89 314.15,129.86 314.4,129.45 314.65,129.79 314.9,129.01 315.15,130.76 315.4,130.24 315.65,132.09 315.9,129.52 316.15,130.23 316.4,129.45 316.65,128.71 316.9,130.01 317.15,130.16 317.4,130.31 317.65,130.51 317.9,130.39 318.15,129.62 318.4,129.99 318.65,129.97 318.9,130.11 319.15,129.46 319.4,129.71 319.65,130.09 319.9,129.61 320.15,130.1 320.4,130.7 320.65,129.13 320.9,129.73 321.15,130.59 321.4,129.36 321.65,129.8 321.9,130.95 322.15,129.04 322.4,129.81 322.65,129.47 322.9,129.89 323.15,130.1 323.4,130.94 323.65,129.42 323.9,129.99 324.15,130.18 324.4,129.8 324.65,129.96 324.9,129.6 325.15,130.23 325.4,130.03 325.65,131.3 325.9,130.26 326.15,129.6 326.4,129.2 326.65,130.23 326.9,130.08 327.15,129.05 327.4,119.75 327.65,110.16 327.9,107.9 328.15,108.57 328.4,107.79 328.65,108.95 328.9,108.39 329.15,108.56 329.4,108.45 329.65,107.84 329.9,107.08 330.15,108.92 330.4,108.86 330.65,108.22 330.9,109.15 331.15,108.22 331.4,108.17 331.65,108.68 331.9,108.2 332.15,109.45 332.4,108.06 332.65,109.45 332.9,108.94 333.15,108.85 333.4,108.76 333.65,108 333.9,108.47 334.15,108.76 334.4,108.19 334.65,107.56 334.9,108.51 335.15,108.3 335.4,107.77 335.65,108.36 335.9,109.29 336.15,107.01 336.4,107.18 336.65,109.71 336.9,108.54 337.15,108.27 337.4,107.93 337.65,108.11 337.9,108.68 338.15,109.15 338.4,108.45 338.65,107.89 338.9,109.17 339.15,109.14 339.4,108.53 339.65,109.69 339.9,108.67 340.15,108.78 340.4,108.25 340.65,112.84 340.9,124.07 341.15,127.87 341.4,129.16 341.65,130.09 341.9,129.88 342.15,129.51 342.4,129.28 342.65,128.97 342.9,130.48 343.15,130.26 343.4,131.51 343.65,128.86 343.9,130.45 344.15,130.03 344.4,129.69 344.65,130.83 344.9,129.73 345.15,130.03 345.4,131.11 345.65,129.83 345.9,129.29 346.15,131.14 346.4,129.52 346.65,129.88 346.9,129.72 347.15,129.74 347.4,129.22 347.65,130.14 347.9,129.48 348.15,130.26 348.4,129.57 348.65,130.5 348.9,130.07 349.15,128.97 349.4,129.74 349.65,130.1 349.9,130.7 350.15,130.49 350.4,129.89 350.65,129.44 350.9,129.75 351.15,129.69 351.4,130.03 351.65,129.19 351.9,130.25 352.15,130.34 352.4,129.47 352.65,129.97 352.9,130.18 353.15,130.36 353.4,130.16 353.65,129.63 353.9,129.8 354.15,130.74 354.4,129.75 354.65,129.9 354.9,130.61 355.15,129.54 355.4,130.18 355.65,130.21 355.9,129.53 356.15,129.21 356.4,121.25 356.65,112.72 356.9,112.03 357.15,109.82 357.4,111.46 357.65,110.42 357.9,111.52 358.15,110.63 358.4,109.75 358.65,112.59 358.9,111.27 359.15,110.65 359.4,110.92 359.65,111.15 359.9,109.3 360.15,110.37 360.4,111.19 360.65,109.42 360.9,110.67 361.15,108.6 361.4,109.29 361.65,108.48 361.9,107.44 362.15,107.79 362.4,108.39 362.65,108.33 362.9,106.41 363.15,106.58 363.4,107.51 363.65,106.58 363.9,106.96 364.15,107.11 364.4,109.16 364.65,108.32 364.9,107.95 365.15,108.42 365.4,108.7 365.65,111.05 365.9,109.77 366.15,109.85 366.4,108.83 366.65,111.14 366.9,110.92 367.15,110.82 367.4,110.4 367.65,111.27 367.9,110.36 368.15,111.56 368.4,110.95 368.65,111.45 368.9,111.04 369.15,111.56 369.4,112.11 369.65,119 369.9,126.02 370.15,128.95 370.4,129.37 370.65,129.22 370.9,130.53 371.15,130.05 371.4,129.67 371.65,129.69 371.9,130.21 372.15,131.28 372.4,129.26 372.65,129.81 372.9,130 373.15,130.18 373.4,129.85 373.65,130.27 373.9,130.63 374.15,130.46 374.4,130.37 374.65,130.38 374.9,130.71 375.15,129.63 375.4,130.8 375.65,129.61 375.9,130.62 376.15,129.8 376.4,129.18 376.65,129.89 376.9,130.45 377.15,129.98 377.4,129.92 377.65,131.06 377.9,130.38 378.15,129.91 378.4,130.29 378.65,129.96 378.9,129.57 379.15,129.55 379.4,129.46 379.65,129.65 379.9,130.18 380.15,130.02 380.4,130.17 380.65,130.2 380.9,130.12 381.15,131.05 381.4,130.21 381.65,130.02 381.9,130.6 382.15,130.02 382.4,129.7 382.65,130.11 382.9,128.76 383.15,131.58 383.4,130.13 383.65,131.11 383.9,129.42 384.15,128.41 384.4,131.52 384.65,129.93 384.9,129.7 385.15,130.19 385.4,129.68 385.65,131.36 385.9,129.5 386.15,129.78 386.4,130 386.65,130.36 386.9,129.62 387.15,130.3 387.4,129.87 387.65,130.32 387.9,131.36 388.15,130.03 388.4,121.56 388.65,114.1 388.9,113.73 389.15,112.97 389.4,112.53 389.65,112.81 389.9,112.14 390.15,111.69 390.4,113.44 390.65,114.05 390.9,112.37 391.15,111.97 391.4,112.33 391.65,112.4 391.9,113.26 392.15,113.32 392.4,112.35 392.65,113.44 392.9,113.98 393.15,113.49 393.4,111.39 393.65,111.73 393.9,113.31 394.15,113.33 394.4,112.75 394.65,113.34 394.9,112.1 395.15,112.94 395.4,113.55 395.65,112.1 395.9,113.24 396.15,112.76 396.4,112.9 396.65,113.08 396.9,112.69 397.15,113.31 397.4,114 397.65,114.22 397.9,113.66 398.15,113.35 398.4,112.9 398.65,112.86 398.9,112.56 399.15,112.82 399.4,113.37 399.65,113.32 399.9,114.17 400.15,112.99 400.4,112.6 400.65,112.57 400.9,112.96 401.15,113 401.4,117.97 401.65,125.78 401.9,128.01 402.15,129.09 402.4,129.67 402.65,129.14 402.9,130.33 403.15,130.22 403.4,130.49 403.65,130.49 403.9,129.07 404.15,128.95 404.4,130 404.65,129.67 404.9,129.3 405.15,129.52 405.4,129.28 405.65,130.77 405.9,130.4 406.15,129.74 406.4,129.14 406.65,129.95 406.9,130.53 407.15,130.22 407.4,130.41 407.65,130.53 407.9,129.1 408.15,130.39 408.4,130 408.65,128.7 408.9,129.29 409.15,129.81 409.4,130.38 409.65,129.76 409.9,129.03 410.15,129.63 410.4,129.25 410.65,129.95 410.9,129.7 411.15,130.13 411.4,129.75 411.65,129.22 411.9,130.87 412.15,130.05 412.4,129.86 412.65,130.35 412.9,130.2 413.15,129.53 413.4,128.8 413.65,129.63 413.9,129.81 414.15,130.95 414.4,128.85 414.65,129.96 414.9,130.03 415.15,130.68 415.4,130.04 415.65,130.67 415.9,129.97 416.15,129.73 416.4,129.99 416.65,129.84 416.9,130.52 417.15,129.15 417.4,130.4 417.65,131.11 417.9,130.12 418.15,130.47 418.4,130.62 418.65,130.22 418.9,129.83 419.15,130.72 419.4,130.09 419.65,129.15 419.9,129.6 420.15,124.12 420.4,111.67 420.65,109.51 420.9,109.02 421.15,108.47 421.4,108.95 421.65,110.35 421.9,108.91 422.15,109.43 422.4,108.5 422.65,109.26 422.9,108.8 423.15,107.58 423.4,109.53 423.65,109.57 423.9,109.75 424.15,110.34 424.4,110.03 424.65,108.67 424.9,109.28 425.15,110.02 425.4,109.79 425.65,108.52 425.9,109.36 426.15,109.12 426.4,108.69 426.65,108.08 426.9,107.72 427.15,108.27 427.4,108.81 427.65,108.78 427.9,107.81 428.15,108.03 428.4,109.08 428.65,108.62 428.9,108.72 429.15,108.86 429.4,109.2 429.65,109.69 429.9,109.22 430.15,109.83 430.4,108.16 430.65,108.57 430.9,109.62 431.15,108.05 431.4,108.36 431.65,110.05 431.9,107.78 432.15,108.41 432.4,107.65 432.65,109.64 432.9,108.57 433.15,108.64 433.4,108.77 433.65,122.14 433.9,126.52 434.15,129.86 434.4,130.37 434.65,130.71 434.9,130.29 435.15,130.36 435.4,129.78 435.65,129.85 435.9,129.99 436.15,130.42 436.4,130.28 436.65,129.43 436.9,129.55 437.15,129.95 437.4,130.2 437.65,129.07 437.9,130.37 438.15,129.62 438.4,129.31 438.65,130.17 438.9,129.51 439.15,130.68 439.4,129.4 439.65,129.89 439.9,130.97 440.15,129.61 440.4,130.55 440.65,129.24 440.9,130.42 441.15,130.11 441.4,129.84 441.65,130.21 441.9,129.85 442.15,130.34 442.4,129.6 442.65,130.01 442.9,129.88 443.15,131.67 443.4,129.31 443.65,129.99 443.9,131.08 444.15,129.95 444.4,129.73 444.65,129.36 444.9,130.66 445.15,129.08 445.4,130.11 445.65,128.56 445.9,130.1 446.15,129.6 446.4,130.23 446.65,130.68 446.9,129.35 447.15,129.46 447.4,129.08 447.65,129.49 447.9,130.36 448.15,131.01 448.4,130.4 448.65,130.42 448.9,130.5 449.15,129.66 449.4,129.81 449.65,130.17 449.9,129.91 450.15,130.1 450.4,129.88 450.65,129.56 450.9,129.43 451.15,130.42 451.4,130.92 451.65,129.15 451.9,129.94 452.15,129.34" fill="none" stroke="#ff7f00" stroke-width="1.6" stroke-linejoin="round" />
</g>
<line x1="297.6" y1="25.3" x2="311.6" y2="25.3" stroke="#ff7f00" stroke-width="2.8" />
<text x="315.4" y="28.3" font-size="8.5" text-anchor="start" fill="#1a1a1a" font-weight="normal" >3<tspan dx="2" dy="0.85" letter-spacing="-0.8">°</tspan><tspan dy="-0.85">C</tspan></text>
<line x1="341.1" y1="25.3" x2="355" y2="25.3" stroke="#8000ff" stroke-width="2.8" />
<text x="357.9" y="28.3" font-size="8.5" text-anchor="start" fill="#1a1a1a" font-weight="normal" >6<tspan dx="2" dy="0.85" letter-spacing="-0.8">°</tspan><tspan dy="-0.85">C</tspan></text>
<line x1="377.6" y1="25.3" x2="391.6" y2="25.3" stroke="#f04848" stroke-width="2.8" />
<text x="394.4" y="28.3" font-size="8.5" text-anchor="start" fill="#1a1a1a" font-weight="normal" >9<tspan dx="2" dy="0.85" letter-spacing="-0.8">°</tspan><tspan dy="-0.85">C</tspan></text>
<line x1="414" y1="25.3" x2="427.4" y2="25.3" stroke="#138a13" stroke-width="2.8" />
<text x="430" y="28.3" font-size="8.5" text-anchor="start" fill="#1a1a1a" font-weight="normal" >12<tspan dx="2" dy="0.85" letter-spacing="-0.8">°</tspan><tspan dy="-0.85">C</tspan></text>
<rect x="292.4" y="18.4" width="159.8" height="128.2" fill="none" stroke="#7a7a7a" stroke-width="1"/>
<text x="467" y="12" font-size="16.3" text-anchor="start" fill="#000" font-weight="bold" >c</text>
<line x1="529.95" y1="146.3" x2="529.95" y2="148.8" stroke="#7a7a7a" stroke-width="1" />
<line x1="544.49" y1="146.3" x2="544.49" y2="147.9" stroke="#7a7a7a" stroke-width="1" />
<line x1="559.04" y1="146.3" x2="559.04" y2="148.8" stroke="#7a7a7a" stroke-width="1" />
<line x1="573.58" y1="146.3" x2="573.58" y2="147.9" stroke="#7a7a7a" stroke-width="1" />
<line x1="588.13" y1="146.3" x2="588.13" y2="148.8" stroke="#7a7a7a" stroke-width="1" />
<line x1="602.67" y1="146.3" x2="602.67" y2="147.9" stroke="#7a7a7a" stroke-width="1" />
<line x1="617.22" y1="146.3" x2="617.22" y2="148.8" stroke="#7a7a7a" stroke-width="1" />
<line x1="631.76" y1="146.3" x2="631.76" y2="147.9" stroke="#7a7a7a" stroke-width="1" />
<line x1="646.31" y1="146.3" x2="646.31" y2="148.8" stroke="#7a7a7a" stroke-width="1" />
<line x1="660.85" y1="146.3" x2="660.85" y2="147.9" stroke="#7a7a7a" stroke-width="1" />
<line x1="675.4" y1="146.3" x2="675.4" y2="148.8" stroke="#7a7a7a" stroke-width="1" />
<line x1="512.9" y1="137.74" x2="515.4" y2="137.74" stroke="#7a7a7a" stroke-width="1" />
<line x1="513.8" y1="124.9" x2="515.4" y2="124.9" stroke="#7a7a7a" stroke-width="1" />
<line x1="512.9" y1="112.06" x2="515.4" y2="112.06" stroke="#7a7a7a" stroke-width="1" />
<line x1="513.8" y1="99.22" x2="515.4" y2="99.22" stroke="#7a7a7a" stroke-width="1" />
<line x1="512.9" y1="86.38" x2="515.4" y2="86.38" stroke="#7a7a7a" stroke-width="1" />
<line x1="513.8" y1="73.54" x2="515.4" y2="73.54" stroke="#7a7a7a" stroke-width="1" />
<line x1="512.9" y1="60.7" x2="515.4" y2="60.7" stroke="#7a7a7a" stroke-width="1" />
<line x1="513.8" y1="47.86" x2="515.4" y2="47.86" stroke="#7a7a7a" stroke-width="1" />
<line x1="512.9" y1="35.02" x2="515.4" y2="35.02" stroke="#7a7a7a" stroke-width="1" />
<line x1="513.8" y1="22.18" x2="515.4" y2="22.18" stroke="#7a7a7a" stroke-width="1" />
<text x="511.4" y="141.94" font-size="12" text-anchor="end" fill="#1a1a1a" font-weight="normal" >30</text>
<text x="511.4" y="116.26" font-size="12" text-anchor="end" fill="#1a1a1a" font-weight="normal" >60</text>
<text x="511.4" y="90.58" font-size="12" text-anchor="end" fill="#1a1a1a" font-weight="normal" >90</text>
<text x="511.4" y="64.9" font-size="12" text-anchor="end" fill="#1a1a1a" font-weight="normal" >120</text>
<text x="511.4" y="39.22" font-size="12" text-anchor="end" fill="#1a1a1a" font-weight="normal" >150</text>
<text x="529.95" y="160.5" font-size="12.2" text-anchor="middle" fill="#1a1a1a" font-weight="normal" >0</text>
<text x="559.54" y="160.5" font-size="12.2" text-anchor="middle" fill="#1a1a1a" font-weight="normal" >10</text>
<text x="588.63" y="160.5" font-size="12.2" text-anchor="middle" fill="#1a1a1a" font-weight="normal" >20</text>
<text x="617.72" y="160.5" font-size="12.2" text-anchor="middle" fill="#1a1a1a" font-weight="normal" >30</text>
<text x="646.81" y="160.5" font-size="12.2" text-anchor="middle" fill="#1a1a1a" font-weight="normal" >40</text>
<text x="675.9" y="160.5" font-size="12.2" text-anchor="middle" fill="#1a1a1a" font-weight="normal" >50</text>
<text x="596.1" y="177" font-size="13.4" text-anchor="middle" fill="#1a1a1a" font-weight="normal" >Strain (%)</text>
<text font-size="13" fill="#1a1a1a" text-anchor="middle" transform="translate(485.4,83.2) rotate(-90)">V<tspan font-size="8.5" dy="2.5">therm</tspan><tspan dy="-2.5"> (μV)</tspan></text>
<line x1="529.95" y1="138.77" x2="529.95" y2="135.69" stroke="#ffb070" stroke-width="1" />
<line x1="528.35" y1="138.77" x2="531.55" y2="138.77" stroke="#ffb070" stroke-width="1" />
<line x1="528.35" y1="135.69" x2="531.55" y2="135.69" stroke="#ffb070" stroke-width="1" />
<line x1="573.58" y1="141.85" x2="573.58" y2="135.86" stroke="#ffb070" stroke-width="1" />
<line x1="571.98" y1="141.85" x2="575.18" y2="141.85" stroke="#ffb070" stroke-width="1" />
<line x1="571.98" y1="135.86" x2="575.18" y2="135.86" stroke="#ffb070" stroke-width="1" />
<line x1="602.67" y1="139.71" x2="602.67" y2="133.37" stroke="#ffb070" stroke-width="1" />
<line x1="601.07" y1="139.71" x2="604.27" y2="139.71" stroke="#ffb070" stroke-width="1" />
<line x1="601.07" y1="133.37" x2="604.27" y2="133.37" stroke="#ffb070" stroke-width="1" />
<line x1="631.76" y1="142.11" x2="631.76" y2="135.26" stroke="#ffb070" stroke-width="1" />
<line x1="630.16" y1="142.11" x2="633.36" y2="142.11" stroke="#ffb070" stroke-width="1" />
<line x1="630.16" y1="135.26" x2="633.36" y2="135.26" stroke="#ffb070" stroke-width="1" />
<line x1="660.85" y1="143.39" x2="660.85" y2="132.26" stroke="#ffb070" stroke-width="1" />
<line x1="659.25" y1="143.39" x2="662.45" y2="143.39" stroke="#ffb070" stroke-width="1" />
<line x1="659.25" y1="132.26" x2="662.45" y2="132.26" stroke="#ffb070" stroke-width="1" />
<polyline points="529.95,137.23 573.58,138.85 602.67,136.54 631.76,138.68 660.85,137.83" fill="none" stroke="#ff8000" stroke-width="1.4" stroke-linejoin="round" />
<rect x="528.05" y="135.33" width="3.8" height="3.8" rx="0.95" fill="none" stroke="#ff8000" stroke-width="1.0"/>
<rect x="571.68" y="136.95" width="3.8" height="3.8" rx="0.95" fill="none" stroke="#ff8000" stroke-width="1.0"/>
<rect x="600.77" y="134.64" width="3.8" height="3.8" rx="0.95" fill="none" stroke="#ff8000" stroke-width="1.0"/>
<rect x="629.86" y="136.78" width="3.8" height="3.8" rx="0.95" fill="none" stroke="#ff8000" stroke-width="1.0"/>
<rect x="658.95" y="135.93" width="3.8" height="3.8" rx="0.95" fill="none" stroke="#ff8000" stroke-width="1.0"/>
<line x1="529.95" y1="120.19" x2="529.95" y2="117.62" stroke="#a060ff" stroke-width="1" />
<line x1="528.35" y1="120.19" x2="531.55" y2="120.19" stroke="#a060ff" stroke-width="1" />
<line x1="528.35" y1="117.62" x2="531.55" y2="117.62" stroke="#a060ff" stroke-width="1" />
<line x1="573.58" y1="118.65" x2="573.58" y2="116.08" stroke="#a060ff" stroke-width="1" />
<line x1="571.98" y1="118.65" x2="575.18" y2="118.65" stroke="#a060ff" stroke-width="1" />
<line x1="571.98" y1="116.08" x2="575.18" y2="116.08" stroke="#a060ff" stroke-width="1" />
<line x1="602.67" y1="118.99" x2="602.67" y2="116.43" stroke="#a060ff" stroke-width="1" />
<line x1="601.07" y1="118.99" x2="604.27" y2="118.99" stroke="#a060ff" stroke-width="1" />
<line x1="601.07" y1="116.43" x2="604.27" y2="116.43" stroke="#a060ff" stroke-width="1" />
<line x1="631.76" y1="121.05" x2="631.76" y2="116.77" stroke="#a060ff" stroke-width="1" />
<line x1="630.16" y1="121.05" x2="633.36" y2="121.05" stroke="#a060ff" stroke-width="1" />
<line x1="630.16" y1="116.77" x2="633.36" y2="116.77" stroke="#a060ff" stroke-width="1" />
<line x1="660.85" y1="128.41" x2="660.85" y2="115.06" stroke="#a060ff" stroke-width="1" />
<line x1="659.25" y1="128.41" x2="662.45" y2="128.41" stroke="#a060ff" stroke-width="1" />
<line x1="659.25" y1="115.06" x2="662.45" y2="115.06" stroke="#a060ff" stroke-width="1" />
<polyline points="529.95,118.91 573.58,117.37 602.67,117.71 631.76,118.91 660.85,121.73" fill="none" stroke="#8000ff" stroke-width="1.4" stroke-linejoin="round" />
<circle cx="529.95" cy="118.91" r="1.9" fill="none" stroke="#8000ff" stroke-width="1.0"/>
<circle cx="573.58" cy="117.37" r="1.9" fill="none" stroke="#8000ff" stroke-width="1.0"/>
<circle cx="602.67" cy="117.71" r="1.9" fill="none" stroke="#8000ff" stroke-width="1.0"/>
<circle cx="631.76" cy="118.91" r="1.9" fill="none" stroke="#8000ff" stroke-width="1.0"/>
<circle cx="660.85" cy="121.73" r="1.9" fill="none" stroke="#8000ff" stroke-width="1.0"/>
<line x1="529.95" y1="98.79" x2="529.95" y2="96.22" stroke="#ffa0a0" stroke-width="1" />
<line x1="528.35" y1="98.79" x2="531.55" y2="98.79" stroke="#ffa0a0" stroke-width="1" />
<line x1="528.35" y1="96.22" x2="531.55" y2="96.22" stroke="#ffa0a0" stroke-width="1" />
<line x1="573.58" y1="100.68" x2="573.58" y2="98.11" stroke="#ffa0a0" stroke-width="1" />
<line x1="571.98" y1="100.68" x2="575.18" y2="100.68" stroke="#ffa0a0" stroke-width="1" />
<line x1="571.98" y1="98.11" x2="575.18" y2="98.11" stroke="#ffa0a0" stroke-width="1" />
<line x1="602.67" y1="98.19" x2="602.67" y2="94.77" stroke="#ffa0a0" stroke-width="1" />
<line x1="601.07" y1="98.19" x2="604.27" y2="98.19" stroke="#ffa0a0" stroke-width="1" />
<line x1="601.07" y1="94.77" x2="604.27" y2="94.77" stroke="#ffa0a0" stroke-width="1" />
<line x1="631.76" y1="101.87" x2="631.76" y2="90.75" stroke="#ffa0a0" stroke-width="1" />
<line x1="630.16" y1="101.87" x2="633.36" y2="101.87" stroke="#ffa0a0" stroke-width="1" />
<line x1="630.16" y1="90.75" x2="633.36" y2="90.75" stroke="#ffa0a0" stroke-width="1" />
<line x1="660.85" y1="102.82" x2="660.85" y2="87.41" stroke="#ffa0a0" stroke-width="1" />
<line x1="659.25" y1="102.82" x2="662.45" y2="102.82" stroke="#ffa0a0" stroke-width="1" />
<line x1="659.25" y1="87.41" x2="662.45" y2="87.41" stroke="#ffa0a0" stroke-width="1" />
<polyline points="529.95,97.51 573.58,99.39 602.67,96.48 631.76,96.31 660.85,95.11" fill="none" stroke="#ff3c3c" stroke-width="1.4" stroke-linejoin="round" />
<line x1="526.95" y1="97.51" x2="532.95" y2="97.51" stroke="#ff6a6a" stroke-width="0.85" />
<line x1="527.82" y1="95.39" x2="532.07" y2="99.63" stroke="#ff6a6a" stroke-width="0.85" />
<line x1="532.07" y1="95.39" x2="527.82" y2="99.63" stroke="#ff6a6a" stroke-width="0.85" />
<line x1="529.95" y1="94.51" x2="529.95" y2="100.51" stroke="#ff6a6a" stroke-width="0.85" />
<line x1="570.58" y1="99.39" x2="576.58" y2="99.39" stroke="#ff6a6a" stroke-width="0.85" />
<line x1="571.46" y1="97.27" x2="575.7" y2="101.51" stroke="#ff6a6a" stroke-width="0.85" />
<line x1="575.7" y1="97.27" x2="571.46" y2="101.51" stroke="#ff6a6a" stroke-width="0.85" />
<line x1="573.58" y1="96.39" x2="573.58" y2="102.39" stroke="#ff6a6a" stroke-width="0.85" />
<line x1="599.67" y1="96.48" x2="605.67" y2="96.48" stroke="#ff6a6a" stroke-width="0.85" />
<line x1="600.55" y1="94.36" x2="604.79" y2="98.6" stroke="#ff6a6a" stroke-width="0.85" />
<line x1="604.79" y1="94.36" x2="600.55" y2="98.6" stroke="#ff6a6a" stroke-width="0.85" />
<line x1="602.67" y1="93.48" x2="602.67" y2="99.48" stroke="#ff6a6a" stroke-width="0.85" />
<line x1="628.76" y1="96.31" x2="634.76" y2="96.31" stroke="#ff6a6a" stroke-width="0.85" />
<line x1="629.64" y1="94.19" x2="633.88" y2="98.43" stroke="#ff6a6a" stroke-width="0.85" />
<line x1="633.88" y1="94.19" x2="629.64" y2="98.43" stroke="#ff6a6a" stroke-width="0.85" />
<line x1="631.76" y1="93.31" x2="631.76" y2="99.31" stroke="#ff6a6a" stroke-width="0.85" />
<line x1="657.85" y1="95.11" x2="663.85" y2="95.11" stroke="#ff6a6a" stroke-width="0.85" />
<line x1="658.73" y1="92.99" x2="662.98" y2="97.23" stroke="#ff6a6a" stroke-width="0.85" />
<line x1="662.98" y1="92.99" x2="658.73" y2="97.23" stroke="#ff6a6a" stroke-width="0.85" />
<line x1="660.85" y1="92.11" x2="660.85" y2="98.11" stroke="#ff6a6a" stroke-width="0.85" />
<line x1="529.95" y1="67.98" x2="529.95" y2="64.89" stroke="#3cb371" stroke-width="1" />
<line x1="528.35" y1="67.98" x2="531.55" y2="67.98" stroke="#3cb371" stroke-width="1" />
<line x1="528.35" y1="64.89" x2="531.55" y2="64.89" stroke="#3cb371" stroke-width="1" />
<line x1="573.58" y1="68.83" x2="573.58" y2="60.61" stroke="#3cb371" stroke-width="1" />
<line x1="571.98" y1="68.83" x2="575.18" y2="68.83" stroke="#3cb371" stroke-width="1" />
<line x1="571.98" y1="60.61" x2="575.18" y2="60.61" stroke="#3cb371" stroke-width="1" />
<line x1="602.67" y1="68.92" x2="602.67" y2="58.65" stroke="#3cb371" stroke-width="1" />
<line x1="601.07" y1="68.92" x2="604.27" y2="68.92" stroke="#3cb371" stroke-width="1" />
<line x1="601.07" y1="58.65" x2="604.27" y2="58.65" stroke="#3cb371" stroke-width="1" />
<line x1="631.76" y1="68.92" x2="631.76" y2="56.42" stroke="#3cb371" stroke-width="1" />
<line x1="630.16" y1="68.92" x2="633.36" y2="68.92" stroke="#3cb371" stroke-width="1" />
<line x1="630.16" y1="56.42" x2="633.36" y2="56.42" stroke="#3cb371" stroke-width="1" />
<line x1="660.85" y1="74.65" x2="660.85" y2="58.73" stroke="#3cb371" stroke-width="1" />
<line x1="659.25" y1="74.65" x2="662.45" y2="74.65" stroke="#3cb371" stroke-width="1" />
<line x1="659.25" y1="58.73" x2="662.45" y2="58.73" stroke="#3cb371" stroke-width="1" />
<polyline points="529.95,66.44 573.58,64.72 602.67,63.78 631.76,62.67 660.85,66.69" fill="none" stroke="#3cb371" stroke-width="1.4" stroke-linejoin="round" />
<line x1="526.95" y1="66.44" x2="532.95" y2="66.44" stroke="#4cbf7f" stroke-width="0.85" />
<line x1="527.82" y1="64.31" x2="532.07" y2="68.56" stroke="#4cbf7f" stroke-width="0.85" />
<line x1="532.07" y1="64.31" x2="527.82" y2="68.56" stroke="#4cbf7f" stroke-width="0.85" />
<line x1="529.95" y1="63.44" x2="529.95" y2="69.44" stroke="#4cbf7f" stroke-width="0.85" />
<line x1="570.58" y1="64.72" x2="576.58" y2="64.72" stroke="#4cbf7f" stroke-width="0.85" />
<line x1="571.46" y1="62.6" x2="575.7" y2="66.84" stroke="#4cbf7f" stroke-width="0.85" />
<line x1="575.7" y1="62.6" x2="571.46" y2="66.84" stroke="#4cbf7f" stroke-width="0.85" />
<line x1="573.58" y1="61.72" x2="573.58" y2="67.72" stroke="#4cbf7f" stroke-width="0.85" />
<line x1="599.67" y1="63.78" x2="605.67" y2="63.78" stroke="#4cbf7f" stroke-width="0.85" />
<line x1="600.55" y1="61.66" x2="604.79" y2="65.9" stroke="#4cbf7f" stroke-width="0.85" />
<line x1="604.79" y1="61.66" x2="600.55" y2="65.9" stroke="#4cbf7f" stroke-width="0.85" />
<line x1="602.67" y1="60.78" x2="602.67" y2="66.78" stroke="#4cbf7f" stroke-width="0.85" />
<line x1="628.76" y1="62.67" x2="634.76" y2="62.67" stroke="#4cbf7f" stroke-width="0.85" />
<line x1="629.64" y1="60.55" x2="633.88" y2="64.79" stroke="#4cbf7f" stroke-width="0.85" />
<line x1="633.88" y1="60.55" x2="629.64" y2="64.79" stroke="#4cbf7f" stroke-width="0.85" />
<line x1="631.76" y1="59.67" x2="631.76" y2="65.67" stroke="#4cbf7f" stroke-width="0.85" />
<line x1="657.85" y1="66.69" x2="663.85" y2="66.69" stroke="#4cbf7f" stroke-width="0.85" />
<line x1="658.73" y1="64.57" x2="662.98" y2="68.81" stroke="#4cbf7f" stroke-width="0.85" />
<line x1="662.98" y1="64.57" x2="658.73" y2="68.81" stroke="#4cbf7f" stroke-width="0.85" />
<line x1="660.85" y1="63.69" x2="660.85" y2="69.69" stroke="#4cbf7f" stroke-width="0.85" />
<text x="518.8" y="31.2" font-size="9.5" text-anchor="start" fill="#1a1a1a" font-weight="normal"  textLength="17" lengthAdjust="spacingAndGlyphs">ΔT=</text>
<line x1="542.6" y1="28.5" x2="561.6" y2="28.5" stroke="#ff8000" stroke-width="1.4" />
<rect x="550.5" y="26.9" width="3.2" height="3.2" fill="none" stroke="#ff8000" stroke-width="1.0"/>
<text x="566.9" y="32.1" font-size="10" text-anchor="start" fill="#1a1a1a" font-weight="normal"  textLength="14.6" lengthAdjust="spacingAndGlyphs">3<tspan dx="0" dy="1" letter-spacing="0">°</tspan><tspan dy="-1">C</tspan></text>
<line x1="594.6" y1="28.5" x2="613.7" y2="28.5" stroke="#8000ff" stroke-width="1.4" />
<circle cx="604.15" cy="28.5" r="1.6" fill="none" stroke="#8000ff" stroke-width="1.0"/>
<text x="619" y="32.1" font-size="10" text-anchor="start" fill="#1a1a1a" font-weight="normal"  textLength="14.6" lengthAdjust="spacingAndGlyphs">6<tspan dx="0" dy="1" letter-spacing="0">°</tspan><tspan dy="-1">C</tspan></text>
<line x1="542.6" y1="45.3" x2="561.6" y2="45.3" stroke="#ff3c3c" stroke-width="1.4" />
<line x1="549.1" y1="45.3" x2="555.1" y2="45.3" stroke="#ff6a6a" stroke-width="0.85" />
<line x1="549.98" y1="43.18" x2="554.22" y2="47.42" stroke="#ff6a6a" stroke-width="0.85" />
<line x1="554.22" y1="43.18" x2="549.98" y2="47.42" stroke="#ff6a6a" stroke-width="0.85" />
<line x1="552.1" y1="42.3" x2="552.1" y2="48.3" stroke="#ff6a6a" stroke-width="0.85" />
<text x="566.9" y="48.9" font-size="10" text-anchor="start" fill="#1a1a1a" font-weight="normal"  textLength="14.6" lengthAdjust="spacingAndGlyphs">9<tspan dx="0" dy="1" letter-spacing="0">°</tspan><tspan dy="-1">C</tspan></text>
<line x1="594.6" y1="45.3" x2="613.7" y2="45.3" stroke="#3cb371" stroke-width="1.4" />
<line x1="601.15" y1="45.3" x2="607.15" y2="45.3" stroke="#4cbf7f" stroke-width="0.85" />
<line x1="602.03" y1="43.18" x2="606.27" y2="47.42" stroke="#4cbf7f" stroke-width="0.85" />
<line x1="606.27" y1="43.18" x2="602.03" y2="47.42" stroke="#4cbf7f" stroke-width="0.85" />
<line x1="604.15" y1="42.3" x2="604.15" y2="48.3" stroke="#4cbf7f" stroke-width="0.85" />
<text x="619.8" y="48.9" font-size="10" text-anchor="start" fill="#1a1a1a" font-weight="normal"  textLength="19.2" lengthAdjust="spacingAndGlyphs">12<tspan dx="0" dy="1" letter-spacing="0">°</tspan><tspan dy="-1">C</tspan></text>
<rect x="515.4" y="17.9" width="160" height="128.4" fill="none" stroke="#7a7a7a" stroke-width="1"/>
<text x="-0.6" y="212.6" font-size="16.3" text-anchor="start" fill="#000" font-weight="bold" >d</text>
<line x1="47.5" y1="215.6" x2="208.5" y2="215.6" stroke="#7a7a7a" stroke-width="1" />
<line x1="47.5" y1="345.9" x2="208.5" y2="345.9" stroke="#7a7a7a" stroke-width="1" />
<line x1="62.14" y1="345.9" x2="62.14" y2="348.4" stroke="#7a7a7a" stroke-width="1" />
<line x1="84.09" y1="345.9" x2="84.09" y2="347.5" stroke="#7a7a7a" stroke-width="1" />
<line x1="106.05" y1="345.9" x2="106.05" y2="348.4" stroke="#7a7a7a" stroke-width="1" />
<line x1="128" y1="345.9" x2="128" y2="347.5" stroke="#7a7a7a" stroke-width="1" />
<line x1="149.95" y1="345.9" x2="149.95" y2="348.4" stroke="#7a7a7a" stroke-width="1" />
<line x1="171.91" y1="345.9" x2="171.91" y2="347.5" stroke="#7a7a7a" stroke-width="1" />
<line x1="193.86" y1="345.9" x2="193.86" y2="348.4" stroke="#7a7a7a" stroke-width="1" />
<text x="62.14" y="358.6" font-size="12" text-anchor="middle" fill="#1a1a1a" font-weight="normal" >3</text>
<text x="106.05" y="358.6" font-size="12" text-anchor="middle" fill="#1a1a1a" font-weight="normal" >6</text>
<text x="149.95" y="358.6" font-size="12" text-anchor="middle" fill="#1a1a1a" font-weight="normal" >9</text>
<text x="193.86" y="358.6" font-size="12" text-anchor="middle" fill="#1a1a1a" font-weight="normal" >12</text>
<text x="128.2" y="371.6" font-size="12.5" text-anchor="middle" fill="#1a1a1a" font-weight="normal" >ΔT (<tspan dx="0" dy="1.25" letter-spacing="-1">°</tspan><tspan dy="-1.25">C</tspan>)</text>
<line x1="47.5" y1="215.6" x2="47.5" y2="345.9" stroke="#e8262c" stroke-width="1.2" />
<line x1="45" y1="216" x2="47.5" y2="216" stroke="#e8262c" stroke-width="1" />
<line x1="45.9" y1="230.2" x2="47.5" y2="230.2" stroke="#e8262c" stroke-width="1" />
<line x1="45" y1="244.4" x2="47.5" y2="244.4" stroke="#e8262c" stroke-width="1" />
<line x1="45" y1="274.8" x2="47.5" y2="274.8" stroke="#e8262c" stroke-width="1" />
<line x1="45.9" y1="289.15" x2="47.5" y2="289.15" stroke="#e8262c" stroke-width="1" />
<line x1="45" y1="303.5" x2="47.5" y2="303.5" stroke="#e8262c" stroke-width="1" />
<line x1="45.9" y1="317.85" x2="47.5" y2="317.85" stroke="#e8262c" stroke-width="1" />
<line x1="45" y1="332.2" x2="47.5" y2="332.2" stroke="#e8262c" stroke-width="1" />
<text x="43.6" y="220.3" font-size="12" text-anchor="end" fill="#e8262c" font-weight="normal" >280</text>
<text x="43.6" y="248.7" font-size="12" text-anchor="end" fill="#e8262c" font-weight="normal" >240</text>
<text x="43.6" y="279.1" font-size="12" text-anchor="end" fill="#e8262c" font-weight="normal" >80</text>
<text x="43.6" y="307.8" font-size="12" text-anchor="end" fill="#e8262c" font-weight="normal" >40</text>
<text x="43.6" y="336.5" font-size="12" text-anchor="end" fill="#e8262c" font-weight="normal" >0</text>
<rect x="46.0" y="257.9" width="3" height="3.2" fill="#fff"/>
<line x1="44.9" y1="259.4" x2="49.9" y2="256.9" stroke="#e8262c" stroke-width="1.1" />
<line x1="44.9" y1="261.6" x2="49.9" y2="259.1" stroke="#e8262c" stroke-width="1.1" />
<text font-size="12" fill="#e8262c" text-anchor="middle" transform="translate(20.4,278.5) rotate(-90)">ΔR/R<tspan font-size="8.5" dy="3.5">0</tspan></text>
<line x1="208.5" y1="215.6" x2="208.5" y2="345.9" stroke="#3f7fc4" stroke-width="1.3" />
<line x1="208.5" y1="337.3" x2="211" y2="337.3" stroke="#3f7fc4" stroke-width="1" />
<line x1="208.5" y1="326.1" x2="210.1" y2="326.1" stroke="#3f7fc4" stroke-width="1" />
<line x1="208.5" y1="314.9" x2="211" y2="314.9" stroke="#3f7fc4" stroke-width="1" />
<line x1="208.5" y1="303.7" x2="210.1" y2="303.7" stroke="#3f7fc4" stroke-width="1" />
<line x1="208.5" y1="292.5" x2="211" y2="292.5" stroke="#3f7fc4" stroke-width="1" />
<line x1="208.5" y1="281.3" x2="210.1" y2="281.3" stroke="#3f7fc4" stroke-width="1" />
<line x1="208.5" y1="270.1" x2="211" y2="270.1" stroke="#3f7fc4" stroke-width="1" />
<line x1="208.5" y1="258.9" x2="210.1" y2="258.9" stroke="#3f7fc4" stroke-width="1" />
<line x1="208.5" y1="247.7" x2="211" y2="247.7" stroke="#3f7fc4" stroke-width="1" />
<line x1="208.5" y1="236.5" x2="210.1" y2="236.5" stroke="#3f7fc4" stroke-width="1" />
<line x1="208.5" y1="225.3" x2="211" y2="225.3" stroke="#3f7fc4" stroke-width="1" />
<text x="211.6" y="229.7" font-size="12.4" text-anchor="start" fill="#3f7fc4" font-weight="normal" >0.25</text>
<text x="211.6" y="252.1" font-size="12.4" text-anchor="start" fill="#3f7fc4" font-weight="normal" >0.2</text>
<text x="211.6" y="274.5" font-size="12.4" text-anchor="start" fill="#3f7fc4" font-weight="normal" >0.15</text>
<text x="211.6" y="296.9" font-size="12.4" text-anchor="start" fill="#3f7fc4" font-weight="normal" >0.1</text>
<text x="211.6" y="319.3" font-size="12.4" text-anchor="start" fill="#3f7fc4" font-weight="normal" >0.05</text>
<text x="211.6" y="341.7" font-size="12.4" text-anchor="start" fill="#3f7fc4" font-weight="normal" >0</text>
<text font-size="11" fill="#3f7fc4" text-anchor="middle" transform="translate(243.4,286.7) rotate(-90)">I/I<tspan font-size="6.5" dy="1.6">0</tspan></text>
<polyline points="62.14,227.2 106.05,229.2 149.95,229.4 193.86,229" fill="none" stroke="#3f7fc4" stroke-width="1.4" stroke-linejoin="round" stroke-dasharray="1.6 5.6" stroke-linecap="butt"/>
<polyline points="62.14,275.9 106.05,273.5 149.95,274.5 193.86,279.8" fill="none" stroke="#3f7fc4" stroke-width="1.4" stroke-linejoin="round" stroke-dasharray="1.6 5.6" stroke-linecap="butt"/>
<polyline points="62.14,320.9 106.05,323.7 149.95,323.3 193.86,323.9" fill="none" stroke="#3f7fc4" stroke-width="1.4" stroke-linejoin="round" stroke-dasharray="1.6 5.6" stroke-linecap="butt"/>
<polyline points="62.14,335.9 106.05,335.9 149.95,336.2 193.86,336.2" fill="none" stroke="#3f7fc4" stroke-width="1.4" stroke-linejoin="round" stroke-dasharray="1.6 5.6" stroke-linecap="butt"/>
<polyline points="62.14,235.3 106.05,238 149.95,239.3 193.86,236" fill="none" stroke="#e8262c" stroke-width="1.3" stroke-linejoin="round" />
<polygon points="62.14,232.54 64.78,237.37 59.5,237.37" fill="#fff" stroke="#e8262c" stroke-width="0.9" stroke-linejoin="round"/>
<polygon points="106.05,235.24 108.69,240.07 103.41,240.07" fill="#fff" stroke="#e8262c" stroke-width="0.9" stroke-linejoin="round"/>
<polygon points="149.95,236.54 152.59,241.37 147.31,241.37" fill="#fff" stroke="#e8262c" stroke-width="0.9" stroke-linejoin="round"/>
<polygon points="193.86,233.24 196.5,238.07 191.22,238.07" fill="#fff" stroke="#e8262c" stroke-width="0.9" stroke-linejoin="round"/>
<polyline points="62.14,284.2 106.05,283.8 149.95,284 193.86,284.4" fill="none" stroke="#e8262c" stroke-width="1.3" stroke-linejoin="round" />
<polygon points="62.14,281.2 62.93,283.11 64.99,283.27 63.42,284.62 63.9,286.63 62.14,285.55 60.37,286.63 60.85,284.62 59.28,283.27 61.34,283.11" fill="#fff" stroke="#e8262c" stroke-width="0.9" stroke-linejoin="round"/>
<polygon points="106.05,280.8 106.84,282.71 108.9,282.87 107.33,284.22 107.81,286.23 106.05,285.15 104.28,286.23 104.76,284.22 103.19,282.87 105.25,282.71" fill="#fff" stroke="#e8262c" stroke-width="0.9" stroke-linejoin="round"/>
<polygon points="149.95,281 150.75,282.91 152.81,283.07 151.24,284.42 151.72,286.43 149.95,285.35 148.19,286.43 148.67,284.42 147.1,283.07 149.16,282.91" fill="#fff" stroke="#e8262c" stroke-width="0.9" stroke-linejoin="round"/>
<polygon points="193.86,281.4 194.66,283.31 196.72,283.47 195.15,284.82 195.63,286.83 193.86,285.75 192.1,286.83 192.58,284.82 191.01,283.47 193.07,283.31" fill="#fff" stroke="#e8262c" stroke-width="0.9" stroke-linejoin="round"/>
<polyline points="62.14,318 106.05,318.2 149.95,318.9 193.86,318.6" fill="none" stroke="#e8262c" stroke-width="1.3" stroke-linejoin="round" />
<rect x="60.14" y="316" width="4" height="4" fill="#fff" stroke="#e8262c" stroke-width="0.9"/>
<rect x="104.05" y="316.2" width="4" height="4" fill="#fff" stroke="#e8262c" stroke-width="0.9"/>
<rect x="147.95" y="316.9" width="4" height="4" fill="#fff" stroke="#e8262c" stroke-width="0.9"/>
<rect x="191.86" y="316.6" width="4" height="4" fill="#fff" stroke="#e8262c" stroke-width="0.9"/>
<polyline points="62.14,329.3 106.05,329.5 149.95,329.5 193.86,329.5" fill="none" stroke="#e8262c" stroke-width="1.3" stroke-linejoin="round" />
<circle cx="62.14" cy="329.3" r="2.1" fill="#fff" stroke="#e8262c" stroke-width="0.9"/>
<circle cx="106.05" cy="329.5" r="2.1" fill="#fff" stroke="#e8262c" stroke-width="0.9"/>
<circle cx="149.95" cy="329.5" r="2.1" fill="#fff" stroke="#e8262c" stroke-width="0.9"/>
<circle cx="193.86" cy="329.5" r="2.1" fill="#fff" stroke="#e8262c" stroke-width="0.9"/>
<circle cx="62.14" cy="227.2" r="2.3" fill="#3f7fc4" stroke="#3f7fc4" stroke-width="0.5"/>
<circle cx="106.05" cy="229.2" r="2.3" fill="#3f7fc4" stroke="#3f7fc4" stroke-width="0.5"/>
<circle cx="149.95" cy="229.4" r="2.3" fill="#3f7fc4" stroke="#3f7fc4" stroke-width="0.5"/>
<circle cx="193.86" cy="229" r="2.3" fill="#3f7fc4" stroke="#3f7fc4" stroke-width="0.5"/>
<rect x="59.94" y="273.7" width="4.4" height="4.4" fill="#3f7fc4" stroke="#3f7fc4" stroke-width="0.5"/>
<rect x="103.85" y="271.3" width="4.4" height="4.4" fill="#3f7fc4" stroke="#3f7fc4" stroke-width="0.5"/>
<rect x="147.75" y="272.3" width="4.4" height="4.4" fill="#3f7fc4" stroke="#3f7fc4" stroke-width="0.5"/>
<rect x="191.66" y="277.6" width="4.4" height="4.4" fill="#3f7fc4" stroke="#3f7fc4" stroke-width="0.5"/>
<polygon points="62.14,317.7 62.98,319.74 65.18,319.91 63.51,321.34 64.02,323.49 62.14,322.34 60.26,323.49 60.77,321.34 59.09,319.91 61.29,319.74" fill="#3f7fc4" stroke="#3f7fc4" stroke-width="0.5" stroke-linejoin="round"/>
<polygon points="106.05,320.5 106.89,322.54 109.09,322.71 107.41,324.14 107.93,326.29 106.05,325.14 104.16,326.29 104.68,324.14 103,322.71 105.2,322.54" fill="#3f7fc4" stroke="#3f7fc4" stroke-width="0.5" stroke-linejoin="round"/>
<polygon points="149.95,320.1 150.8,322.14 153,322.31 151.32,323.74 151.84,325.89 149.95,324.74 148.07,325.89 148.59,323.74 146.91,322.31 149.11,322.14" fill="#3f7fc4" stroke="#3f7fc4" stroke-width="0.5" stroke-linejoin="round"/>
<polygon points="193.86,320.7 194.71,322.74 196.91,322.91 195.23,324.34 195.74,326.49 193.86,325.34 191.98,326.49 192.49,324.34 190.82,322.91 193.02,322.74" fill="#3f7fc4" stroke="#3f7fc4" stroke-width="0.5" stroke-linejoin="round"/>
<polygon points="62.14,332.91 65,338.14 59.28,338.14" fill="#3f7fc4" stroke="#3f7fc4" stroke-width="0.5" stroke-linejoin="round"/>
<polygon points="106.05,332.91 108.91,338.14 103.19,338.14" fill="#3f7fc4" stroke="#3f7fc4" stroke-width="0.5" stroke-linejoin="round"/>
<polygon points="149.95,333.21 152.81,338.44 147.09,338.44" fill="#3f7fc4" stroke="#3f7fc4" stroke-width="0.5" stroke-linejoin="round"/>
<polygon points="193.86,333.21 196.72,338.44 191,338.44" fill="#3f7fc4" stroke="#3f7fc4" stroke-width="0.5" stroke-linejoin="round"/>
<line x1="71.3" y1="251.3" x2="85.9" y2="251.3" stroke="#e8262c" stroke-width="1.3" />
<circle cx="78.5" cy="251.3" r="2" fill="#fff" stroke="#e8262c" stroke-width="0.9"/>
<line x1="87.9" y1="251.3" x2="89.3" y2="251.3" stroke="#3f7fc4" stroke-width="1.3" />
<line x1="91.7" y1="251.3" x2="93.1" y2="251.3" stroke="#3f7fc4" stroke-width="1.3" />
<circle cx="96.5" cy="251.3" r="2.2" fill="#3f7fc4" stroke="#3f7fc4" stroke-width="0.5"/>
<text x="103.3" y="254.4" font-size="8.6" text-anchor="start" fill="#1a1a1a" font-weight="normal" >15%</text>
<line x1="71.3" y1="260.9" x2="85.9" y2="260.9" stroke="#e8262c" stroke-width="1.3" />
<polygon points="78.5,258.1 79.24,259.88 81.16,260.03 79.7,261.29 80.15,263.17 78.5,262.16 76.85,263.17 77.3,261.29 75.84,260.03 77.76,259.88" fill="#fff" stroke="#e8262c" stroke-width="0.9" stroke-linejoin="round"/>
<line x1="87.9" y1="260.9" x2="89.3" y2="260.9" stroke="#3f7fc4" stroke-width="1.3" />
<line x1="91.7" y1="260.9" x2="93.1" y2="260.9" stroke="#3f7fc4" stroke-width="1.3" />
<polygon points="96.5,257.9 97.29,259.81 99.35,259.97 97.78,261.32 98.26,263.33 96.5,262.25 94.74,263.33 95.22,261.32 93.65,259.97 95.71,259.81" fill="#3f7fc4" stroke="#3f7fc4" stroke-width="0.5" stroke-linejoin="round"/>
<text x="103.3" y="264" font-size="8.6" text-anchor="start" fill="#1a1a1a" font-weight="normal" >35%</text>
<line x1="134" y1="251.1" x2="148.6" y2="251.1" stroke="#e8262c" stroke-width="1.3" />
<rect x="139.1" y="249.2" width="3.8" height="3.8" fill="#fff" stroke="#e8262c" stroke-width="0.9"/>
<line x1="150.6" y1="251.1" x2="152" y2="251.1" stroke="#3f7fc4" stroke-width="1.3" />
<line x1="154.4" y1="251.1" x2="155.8" y2="251.1" stroke="#3f7fc4" stroke-width="1.3" />
<rect x="156.8" y="249" width="4.2" height="4.2" fill="#3f7fc4" stroke="#3f7fc4" stroke-width="0.5"/>
<text x="164.9" y="254.2" font-size="8.6" text-anchor="start" fill="#1a1a1a" font-weight="normal" >25%</text>
<line x1="134" y1="260.9" x2="148.6" y2="260.9" stroke="#e8262c" stroke-width="1.3" />
<polygon points="141,258.25 143.53,262.88 138.47,262.88" fill="#fff" stroke="#e8262c" stroke-width="0.9" stroke-linejoin="round"/>
<line x1="150.6" y1="260.9" x2="152" y2="260.9" stroke="#3f7fc4" stroke-width="1.3" />
<line x1="154.4" y1="260.9" x2="155.8" y2="260.9" stroke="#3f7fc4" stroke-width="1.3" />
<polygon points="158.9,258.02 161.65,263.06 156.15,263.06" fill="#3f7fc4" stroke="#3f7fc4" stroke-width="0.5" stroke-linejoin="round"/>
<text x="164.9" y="264" font-size="8.6" text-anchor="start" fill="#1a1a1a" font-weight="normal" >45%</text>
<text x="244.5" y="212.6" font-size="16.3" text-anchor="start" fill="#000" font-weight="bold" >e</text>
<line x1="301.44" y1="345" x2="301.44" y2="347.5" stroke="#7a7a7a" stroke-width="1" />
<line x1="321.51" y1="345" x2="321.51" y2="346.6" stroke="#7a7a7a" stroke-width="1" />
<line x1="341.59" y1="345" x2="341.59" y2="347.5" stroke="#7a7a7a" stroke-width="1" />
<line x1="361.66" y1="345" x2="361.66" y2="346.6" stroke="#7a7a7a" stroke-width="1" />
<line x1="381.74" y1="345" x2="381.74" y2="347.5" stroke="#7a7a7a" stroke-width="1" />
<line x1="401.81" y1="345" x2="401.81" y2="346.6" stroke="#7a7a7a" stroke-width="1" />
<line x1="421.89" y1="345" x2="421.89" y2="347.5" stroke="#7a7a7a" stroke-width="1" />
<line x1="441.96" y1="345" x2="441.96" y2="346.6" stroke="#7a7a7a" stroke-width="1" />
<line x1="288.9" y1="338.8" x2="291.4" y2="338.8" stroke="#7a7a7a" stroke-width="1" />
<line x1="289.8" y1="320.18" x2="291.4" y2="320.18" stroke="#7a7a7a" stroke-width="1" />
<line x1="288.9" y1="301.57" x2="291.4" y2="301.57" stroke="#7a7a7a" stroke-width="1" />
<line x1="289.8" y1="282.95" x2="291.4" y2="282.95" stroke="#7a7a7a" stroke-width="1" />
<line x1="288.9" y1="264.34" x2="291.4" y2="264.34" stroke="#7a7a7a" stroke-width="1" />
<line x1="289.8" y1="245.72" x2="291.4" y2="245.72" stroke="#7a7a7a" stroke-width="1" />
<line x1="288.9" y1="227.11" x2="291.4" y2="227.11" stroke="#7a7a7a" stroke-width="1" />
<text x="287" y="343" font-size="12" text-anchor="end" fill="#1a1a1a" font-weight="normal" >0</text>
<text x="287" y="305.77" font-size="12" text-anchor="end" fill="#1a1a1a" font-weight="normal" >30</text>
<text x="287" y="268.54" font-size="12" text-anchor="end" fill="#1a1a1a" font-weight="normal" >60</text>
<text x="287" y="231.31" font-size="12" text-anchor="end" fill="#1a1a1a" font-weight="normal" >90</text>
<text x="301.44" y="358" font-size="12" text-anchor="middle" fill="#1a1a1a" font-weight="normal" >0</text>
<text x="341.59" y="358" font-size="12" text-anchor="middle" fill="#1a1a1a" font-weight="normal" >200</text>
<text x="381.74" y="358" font-size="12" text-anchor="middle" fill="#1a1a1a" font-weight="normal" >400</text>
<text x="421.89" y="358" font-size="12" text-anchor="middle" fill="#1a1a1a" font-weight="normal" >600</text>
<text x="371.6" y="372.4" font-size="13" text-anchor="middle" fill="#1a1a1a" font-weight="normal" >Time (s)</text>
<text x="0" y="0" font-size="13" text-anchor="middle" fill="#1a1a1a" font-weight="normal" transform="translate(266.2,283.5) rotate(-90)">Current (nA)</text>
<line x1="291.4" y1="338.5" x2="304.1" y2="338.5" stroke="#2b4c8c" stroke-width="1.1" stroke-dasharray="1.1 1.1"/>
<line x1="304.1" y1="338.5" x2="321.8" y2="338.5" stroke="#2b4c8c" stroke-width="1.6" />
<line x1="291.4" y1="309.4" x2="351.3" y2="309.4" stroke="#ff8000" stroke-width="1.1" stroke-dasharray="1.1 1.1"/>
<polyline points="331.3,309.4 333.3,330.3 335.3,309.4 337.3,330.3 339.3,309.4 341.3,330.3 343.3,309.4 345.3,330.3 347.3,309.4 349.3,330.3 351.3,309.4" fill="none" stroke="#ff8000" stroke-width="1.55" stroke-linejoin="round" stroke-linejoin="miter"/>
<line x1="291.4" y1="284.1" x2="382" y2="284.1" stroke="#8000ff" stroke-width="1.1" stroke-dasharray="1.1 1.1"/>
<polyline points="362,284.1 364,320.8 366,284.1 368,319.5 370,284.1 372,319.5 374,284.1 376,319.5 378,284.1 380,319.5 382,284.1" fill="none" stroke="#8000ff" stroke-width="1.55" stroke-linejoin="round" stroke-linejoin="miter"/>
<line x1="291.4" y1="260.6" x2="408.5" y2="260.6" stroke="#f24c4c" stroke-width="1.1" stroke-dasharray="1.1 1.1"/>
<polyline points="389,260.6 390.95,313.9 392.9,260.6 394.85,313.9 396.8,260.6 398.75,313.9 400.7,260.6 402.65,313.9 404.6,260.6 406.55,313.9 408.5,260.6" fill="none" stroke="#f24c4c" stroke-width="1.55" stroke-linejoin="round" stroke-linejoin="miter"/>
<line x1="291.4" y1="228.6" x2="439.7" y2="228.6" stroke="#2e982e" stroke-width="1.1" stroke-dasharray="1.1 1.1"/>
<polyline points="420.7,228.6 422.6,301.3 424.5,228.6 426.4,301.3 428.3,228.6 430.2,301.3 432.1,228.6 434,301.3 435.9,228.6 437.8,301.3 439.7,228.6" fill="none" stroke="#2e982e" stroke-width="1.55" stroke-linejoin="round" stroke-linejoin="miter"/>
<text x="305.5" y="334.3" font-size="8.3" text-anchor="start" fill="#1a1a1a" font-weight="normal" >0<tspan dx="2" dy="0.83" letter-spacing="-0.9">°</tspan><tspan dy="-0.83">C</tspan></text>
<text x="333.8" y="305.8" font-size="8.3" text-anchor="start" fill="#1a1a1a" font-weight="normal" >3<tspan dx="2" dy="0.83" letter-spacing="-0.9">°</tspan><tspan dy="-0.83">C</tspan></text>
<text x="363.6" y="279.8" font-size="8.3" text-anchor="start" fill="#1a1a1a" font-weight="normal" >6<tspan dx="2" dy="0.83" letter-spacing="-0.9">°</tspan><tspan dy="-0.83">C</tspan></text>
<text x="390.6" y="256.4" font-size="8.3" text-anchor="start" fill="#1a1a1a" font-weight="normal" >9<tspan dx="2" dy="0.83" letter-spacing="-0.9">°</tspan><tspan dy="-0.83">C</tspan></text>
<text x="419.9" y="224.5" font-size="8.3" text-anchor="start" fill="#1a1a1a" font-weight="normal" >12<tspan dx="2" dy="0.83" letter-spacing="-0.9">°</tspan><tspan dy="-0.83">C</tspan></text>
<text x="406.7" y="337.3" font-size="9" text-anchor="start" fill="#3f7fc4" font-weight="normal" xml:space="preserve">ε =  10%</text>
<rect x="291.4" y="214.7" width="160.6" height="130.3" fill="none" stroke="#7a7a7a" stroke-width="1"/>
<text x="469.8" y="212.9" font-size="16.3" text-anchor="start" fill="#000" font-weight="bold" >f</text>
<line x1="531.21" y1="345.6" x2="531.21" y2="348.1" stroke="#7a7a7a" stroke-width="1" />
<line x1="545.82" y1="345.6" x2="545.82" y2="347.2" stroke="#7a7a7a" stroke-width="1" />
<line x1="560.43" y1="345.6" x2="560.43" y2="348.1" stroke="#7a7a7a" stroke-width="1" />
<line x1="575.04" y1="345.6" x2="575.04" y2="347.2" stroke="#7a7a7a" stroke-width="1" />
<line x1="589.65" y1="345.6" x2="589.65" y2="348.1" stroke="#7a7a7a" stroke-width="1" />
<line x1="604.25" y1="345.6" x2="604.25" y2="347.2" stroke="#7a7a7a" stroke-width="1" />
<line x1="618.86" y1="345.6" x2="618.86" y2="348.1" stroke="#7a7a7a" stroke-width="1" />
<line x1="633.47" y1="345.6" x2="633.47" y2="347.2" stroke="#7a7a7a" stroke-width="1" />
<line x1="648.08" y1="345.6" x2="648.08" y2="348.1" stroke="#7a7a7a" stroke-width="1" />
<line x1="662.69" y1="345.6" x2="662.69" y2="347.2" stroke="#7a7a7a" stroke-width="1" />
<line x1="677.3" y1="345.6" x2="677.3" y2="348.1" stroke="#7a7a7a" stroke-width="1" />
<line x1="514.1" y1="333.72" x2="516.6" y2="333.72" stroke="#7a7a7a" stroke-width="1" />
<line x1="515" y1="315.9" x2="516.6" y2="315.9" stroke="#7a7a7a" stroke-width="1" />
<line x1="514.1" y1="298.07" x2="516.6" y2="298.07" stroke="#7a7a7a" stroke-width="1" />
<line x1="515" y1="280.25" x2="516.6" y2="280.25" stroke="#7a7a7a" stroke-width="1" />
<line x1="514.1" y1="262.43" x2="516.6" y2="262.43" stroke="#7a7a7a" stroke-width="1" />
<line x1="515" y1="244.6" x2="516.6" y2="244.6" stroke="#7a7a7a" stroke-width="1" />
<line x1="514.1" y1="226.78" x2="516.6" y2="226.78" stroke="#7a7a7a" stroke-width="1" />
<text x="512.4" y="337.92" font-size="12" text-anchor="end" fill="#1a1a1a" font-weight="normal" >0</text>
<text x="512.4" y="302.27" font-size="12" text-anchor="end" fill="#1a1a1a" font-weight="normal" >30</text>
<text x="512.4" y="266.63" font-size="12" text-anchor="end" fill="#1a1a1a" font-weight="normal" >60</text>
<text x="512.4" y="230.98" font-size="12" text-anchor="end" fill="#1a1a1a" font-weight="normal" >90</text>
<text x="531.21" y="358.3" font-size="12.2" text-anchor="middle" fill="#1a1a1a" font-weight="normal" >0</text>
<text x="560.93" y="358.3" font-size="12.2" text-anchor="middle" fill="#1a1a1a" font-weight="normal" >10</text>
<text x="590.15" y="358.3" font-size="12.2" text-anchor="middle" fill="#1a1a1a" font-weight="normal" >20</text>
<text x="619.36" y="358.3" font-size="12.2" text-anchor="middle" fill="#1a1a1a" font-weight="normal" >30</text>
<text x="648.58" y="358.3" font-size="12.2" text-anchor="middle" fill="#1a1a1a" font-weight="normal" >40</text>
<text x="677.8" y="358.3" font-size="12.2" text-anchor="middle" fill="#1a1a1a" font-weight="normal" >50</text>
<text x="599.5" y="371.8" font-size="13" text-anchor="middle" fill="#1a1a1a" font-weight="normal" >Strain (%)</text>
<text x="0" y="0" font-size="13" text-anchor="middle" fill="#1a1a1a" font-weight="normal" transform="translate(492.3,283.2) rotate(-90)">Current (nA)</text>
<polyline points="531.21,305.6 545.82,319.7 560.43,326.3 575.04,329.6 589.65,330.3 604.25,331.6 618.86,332.5 633.47,332.7 648.08,333 662.69,333.1" fill="none" stroke="#ff8c1a" stroke-width="1.15" stroke-linejoin="round" />
<rect x="529.81" y="304.2" width="2.8" height="2.8" fill="#ff8c1a" stroke="#ff8c1a" stroke-width="0.4"/>
<rect x="544.42" y="318.3" width="2.8" height="2.8" fill="#ff8c1a" stroke="#ff8c1a" stroke-width="0.4"/>
<rect x="559.03" y="324.9" width="2.8" height="2.8" fill="#ff8c1a" stroke="#ff8c1a" stroke-width="0.4"/>
<rect x="573.64" y="328.2" width="2.8" height="2.8" fill="#ff8c1a" stroke="#ff8c1a" stroke-width="0.4"/>
<rect x="588.25" y="328.9" width="2.8" height="2.8" fill="#ff8c1a" stroke="#ff8c1a" stroke-width="0.4"/>
<rect x="602.85" y="330.2" width="2.8" height="2.8" fill="#ff8c1a" stroke="#ff8c1a" stroke-width="0.4"/>
<rect x="617.46" y="331.1" width="2.8" height="2.8" fill="#ff8c1a" stroke="#ff8c1a" stroke-width="0.4"/>
<rect x="632.07" y="331.3" width="2.8" height="2.8" fill="#ff8c1a" stroke="#ff8c1a" stroke-width="0.4"/>
<rect x="646.68" y="331.6" width="2.8" height="2.8" fill="#ff8c1a" stroke="#ff8c1a" stroke-width="0.4"/>
<rect x="661.29" y="331.7" width="2.8" height="2.8" fill="#ff8c1a" stroke="#ff8c1a" stroke-width="0.4"/>
<polyline points="531.21,283.8 545.82,304 560.43,317.3 575.04,323.3 589.65,326.2 604.25,328.6 618.86,330.3 633.47,331.3 648.08,332.1 662.69,332.7" fill="none" stroke="#9b4fc8" stroke-width="1.15" stroke-linejoin="round" />
<circle cx="531.21" cy="283.8" r="1.8" fill="#9b4fc8" stroke="#9b4fc8" stroke-width="0.4"/>
<circle cx="545.82" cy="304" r="1.8" fill="#9b4fc8" stroke="#9b4fc8" stroke-width="0.4"/>
<circle cx="560.43" cy="317.3" r="1.8" fill="#9b4fc8" stroke="#9b4fc8" stroke-width="0.4"/>
<circle cx="575.04" cy="323.3" r="1.8" fill="#9b4fc8" stroke="#9b4fc8" stroke-width="0.4"/>
<circle cx="589.65" cy="326.2" r="1.8" fill="#9b4fc8" stroke="#9b4fc8" stroke-width="0.4"/>
<circle cx="604.25" cy="328.6" r="1.8" fill="#9b4fc8" stroke="#9b4fc8" stroke-width="0.4"/>
<circle cx="618.86" cy="330.3" r="1.8" fill="#9b4fc8" stroke="#9b4fc8" stroke-width="0.4"/>
<circle cx="633.47" cy="331.3" r="1.8" fill="#9b4fc8" stroke="#9b4fc8" stroke-width="0.4"/>
<circle cx="648.08" cy="332.1" r="1.8" fill="#9b4fc8" stroke="#9b4fc8" stroke-width="0.4"/>
<circle cx="662.69" cy="332.7" r="1.8" fill="#9b4fc8" stroke="#9b4fc8" stroke-width="0.4"/>
<polyline points="531.21,265.4 545.82,291.8 560.43,307 575.04,316.6 589.65,322.3 604.25,325.7 618.86,328.2 633.47,329.9 648.08,331.1 662.69,332.2" fill="none" stroke="#e8202a" stroke-width="1.15" stroke-linejoin="round" />
<polygon points="531.21,263.1 533.41,267.12 529.01,267.12" fill="#e8202a" stroke="#e8202a" stroke-width="0.4" stroke-linejoin="round"/>
<polygon points="545.82,289.5 548.02,293.53 543.62,293.53" fill="#e8202a" stroke="#e8202a" stroke-width="0.4" stroke-linejoin="round"/>
<polygon points="560.43,304.7 562.63,308.73 558.23,308.73" fill="#e8202a" stroke="#e8202a" stroke-width="0.4" stroke-linejoin="round"/>
<polygon points="575.04,314.3 577.24,318.33 572.84,318.33" fill="#e8202a" stroke="#e8202a" stroke-width="0.4" stroke-linejoin="round"/>
<polygon points="589.65,320 591.85,324.03 587.45,324.03" fill="#e8202a" stroke="#e8202a" stroke-width="0.4" stroke-linejoin="round"/>
<polygon points="604.25,323.4 606.45,327.43 602.05,327.43" fill="#e8202a" stroke="#e8202a" stroke-width="0.4" stroke-linejoin="round"/>
<polygon points="618.86,325.9 621.06,329.93 616.66,329.93" fill="#e8202a" stroke="#e8202a" stroke-width="0.4" stroke-linejoin="round"/>
<polygon points="633.47,327.6 635.67,331.62 631.27,331.62" fill="#e8202a" stroke="#e8202a" stroke-width="0.4" stroke-linejoin="round"/>
<polygon points="648.08,328.8 650.28,332.83 645.88,332.83" fill="#e8202a" stroke="#e8202a" stroke-width="0.4" stroke-linejoin="round"/>
<polygon points="662.69,329.9 664.89,333.93 660.49,333.93" fill="#e8202a" stroke="#e8202a" stroke-width="0.4" stroke-linejoin="round"/>
<polyline points="531.21,232.2 545.82,274.7 560.43,298.4 575.04,310.2 589.65,317.3 604.25,321.9 618.86,324.8 633.47,327.1 648.08,329.2 662.69,331" fill="none" stroke="#1e961e" stroke-width="1.15" stroke-linejoin="round" />
<polygon points="531.21,234.5 533.41,230.47 529.01,230.47" fill="#1e961e" stroke="#1e961e" stroke-width="0.4" stroke-linejoin="round"/>
<polygon points="545.82,277 548.02,272.97 543.62,272.97" fill="#1e961e" stroke="#1e961e" stroke-width="0.4" stroke-linejoin="round"/>
<polygon points="560.43,300.7 562.63,296.67 558.23,296.67" fill="#1e961e" stroke="#1e961e" stroke-width="0.4" stroke-linejoin="round"/>
<polygon points="575.04,312.5 577.24,308.47 572.84,308.47" fill="#1e961e" stroke="#1e961e" stroke-width="0.4" stroke-linejoin="round"/>
<polygon points="589.65,319.6 591.85,315.57 587.45,315.57" fill="#1e961e" stroke="#1e961e" stroke-width="0.4" stroke-linejoin="round"/>
<polygon points="604.25,324.2 606.45,320.17 602.05,320.17" fill="#1e961e" stroke="#1e961e" stroke-width="0.4" stroke-linejoin="round"/>
<polygon points="618.86,327.1 621.06,323.07 616.66,323.07" fill="#1e961e" stroke="#1e961e" stroke-width="0.4" stroke-linejoin="round"/>
<polygon points="633.47,329.4 635.67,325.38 631.27,325.38" fill="#1e961e" stroke="#1e961e" stroke-width="0.4" stroke-linejoin="round"/>
<polygon points="648.08,331.5 650.28,327.47 645.88,327.47" fill="#1e961e" stroke="#1e961e" stroke-width="0.4" stroke-linejoin="round"/>
<polygon points="662.69,333.3 664.89,329.27 660.49,329.27" fill="#1e961e" stroke="#1e961e" stroke-width="0.4" stroke-linejoin="round"/>
<text x="576.2" y="304" font-size="8.6" text-anchor="start" fill="#1a1a1a" font-weight="normal"  textLength="15" lengthAdjust="spacingAndGlyphs">ΔT=</text>
<line x1="596.7" y1="300.3" x2="610.5" y2="300.3" stroke="#ff8c1a" stroke-width="1.1" />
<rect x="601.9" y="298.9" width="2.8" height="2.8" fill="#ff8c1a" stroke="#ff8c1a" stroke-width="0.4"/>
<text x="612.9" y="303.4" font-size="8.6" text-anchor="start" fill="#1a1a1a" font-weight="normal"  textLength="14" lengthAdjust="spacingAndGlyphs">3<tspan dx="2" dy="0.86" letter-spacing="-0.8">°</tspan><tspan dy="-0.86">C</tspan></text>
<line x1="634.5" y1="300.3" x2="646.3" y2="300.3" stroke="#9b4fc8" stroke-width="1.1" />
<circle cx="640.4" cy="300.3" r="1.8" fill="#9b4fc8" stroke="#9b4fc8" stroke-width="0.4"/>
<text x="649.8" y="303.4" font-size="8.6" text-anchor="start" fill="#1a1a1a" font-weight="normal"  textLength="14" lengthAdjust="spacingAndGlyphs">6<tspan dx="2" dy="0.86" letter-spacing="-0.8">°</tspan><tspan dy="-0.86">C</tspan></text>
<line x1="596.7" y1="313.2" x2="610.5" y2="313.2" stroke="#e8202a" stroke-width="1.1" />
<polygon points="603.3,310.9 605.5,314.93 601.1,314.93" fill="#e8202a" stroke="#e8202a" stroke-width="0.4" stroke-linejoin="round"/>
<text x="612.9" y="316.3" font-size="8.6" text-anchor="start" fill="#1a1a1a" font-weight="normal"  textLength="14" lengthAdjust="spacingAndGlyphs">9<tspan dx="2" dy="0.86" letter-spacing="-0.8">°</tspan><tspan dy="-0.86">C</tspan></text>
<line x1="634.5" y1="313.2" x2="646.3" y2="313.2" stroke="#1e961e" stroke-width="1.1" />
<polygon points="640.4,315.5 642.6,311.47 638.2,311.47" fill="#1e961e" stroke="#1e961e" stroke-width="0.4" stroke-linejoin="round"/>
<text x="649.8" y="316.3" font-size="8.6" text-anchor="start" fill="#1a1a1a" font-weight="normal"  textLength="19.3" lengthAdjust="spacingAndGlyphs">12<tspan dx="2" dy="0.86" letter-spacing="-0.8">°</tspan><tspan dy="-0.86">C</tspan></text>
<rect x="592.6" y="220.2" width="73" height="52.1" fill="#fff" stroke="#7a7a7a" stroke-width="0.9"/>
<line x1="599.4" y1="272.3" x2="599.4" y2="274.1" stroke="#7a7a7a" stroke-width="0.8" />
<line x1="612.42" y1="272.3" x2="612.42" y2="273.4" stroke="#7a7a7a" stroke-width="0.8" />
<line x1="625.45" y1="272.3" x2="625.45" y2="274.1" stroke="#7a7a7a" stroke-width="0.8" />
<line x1="638.48" y1="272.3" x2="638.48" y2="273.4" stroke="#7a7a7a" stroke-width="0.8" />
<line x1="651.5" y1="272.3" x2="651.5" y2="274.1" stroke="#7a7a7a" stroke-width="0.8" />
<line x1="591.5" y1="264.75" x2="592.6" y2="264.75" stroke="#7a7a7a" stroke-width="0.8" />
<line x1="590.8" y1="257.3" x2="592.6" y2="257.3" stroke="#7a7a7a" stroke-width="0.8" />
<line x1="591.5" y1="249.85" x2="592.6" y2="249.85" stroke="#7a7a7a" stroke-width="0.8" />
<line x1="590.8" y1="242.4" x2="592.6" y2="242.4" stroke="#7a7a7a" stroke-width="0.8" />
<line x1="591.5" y1="234.95" x2="592.6" y2="234.95" stroke="#7a7a7a" stroke-width="0.8" />
<line x1="590.8" y1="227.5" x2="592.6" y2="227.5" stroke="#7a7a7a" stroke-width="0.8" />
<text x="590" y="230.2" font-size="7.6" text-anchor="end" fill="#1a1a1a" font-weight="normal" >4</text>
<text x="590" y="245.1" font-size="7.6" text-anchor="end" fill="#1a1a1a" font-weight="normal" >2</text>
<text x="590" y="260" font-size="7.6" text-anchor="end" fill="#1a1a1a" font-weight="normal" >0</text>
<text x="590" y="274.9" font-size="7.6" text-anchor="end" fill="#1a1a1a" font-weight="normal" >-2</text>
<text x="599.4" y="280.3" font-size="7.6" text-anchor="middle" fill="#1a1a1a" font-weight="normal" >0</text>
<text x="625.45" y="280.3" font-size="7.6" text-anchor="middle" fill="#1a1a1a" font-weight="normal" >20</text>
<text x="651.5" y="280.3" font-size="7.6" text-anchor="middle" fill="#1a1a1a" font-weight="normal" >40</text>
<text x="626.6" y="287.6" font-size="7.2" text-anchor="middle" fill="#1a1a1a" font-weight="normal" >Strain (%)</text>
<text x="0" y="0" font-size="7.2" text-anchor="middle" fill="#1a1a1a" font-weight="normal" transform="translate(580.6,251.4) rotate(-90)">LnI (ln(nA))</text>
<text x="594.8" y="268.2" font-size="7.2" text-anchor="start" fill="#1a1a1a" font-weight="normal" >Slope = -0.0849</text>
<line x1="599.4" y1="225.3" x2="658.01" y2="252.3" stroke="#1e961e" stroke-width="0.9" />
<polygon points="599.4,226.18 600.72,223.77 598.08,223.77" fill="#1e961e" stroke="#1e961e" stroke-width="0.3" stroke-linejoin="round"/>
<polygon points="605.91,229.88 607.23,227.47 604.59,227.47" fill="#1e961e" stroke="#1e961e" stroke-width="0.3" stroke-linejoin="round"/>
<polygon points="612.42,233.98 613.75,231.56 611.1,231.56" fill="#1e961e" stroke="#1e961e" stroke-width="0.3" stroke-linejoin="round"/>
<polygon points="618.94,236.78 620.26,234.37 617.62,234.37" fill="#1e961e" stroke="#1e961e" stroke-width="0.3" stroke-linejoin="round"/>
<polygon points="625.45,239.48 626.77,237.06 624.13,237.06" fill="#1e961e" stroke="#1e961e" stroke-width="0.3" stroke-linejoin="round"/>
<polygon points="631.96,241.98 633.28,239.56 630.64,239.56" fill="#1e961e" stroke="#1e961e" stroke-width="0.3" stroke-linejoin="round"/>
<polygon points="638.48,243.88 639.8,241.47 637.15,241.47" fill="#1e961e" stroke="#1e961e" stroke-width="0.3" stroke-linejoin="round"/>
<polygon points="644.99,246.18 646.31,243.77 643.67,243.77" fill="#1e961e" stroke="#1e961e" stroke-width="0.3" stroke-linejoin="round"/>
<polygon points="651.5,249.28 652.82,246.87 650.18,246.87" fill="#1e961e" stroke="#1e961e" stroke-width="0.3" stroke-linejoin="round"/>
<polygon points="658.01,253.28 659.33,250.87 656.69,250.87" fill="#1e961e" stroke="#1e961e" stroke-width="0.3" stroke-linejoin="round"/>
<line x1="599.4" y1="228" x2="658.01" y2="256" stroke="#e8202a" stroke-width="0.9" />
<polygon points="599.4,226.62 600.72,229.03 598.08,229.03" fill="#e8202a" stroke="#e8202a" stroke-width="0.3" stroke-linejoin="round"/>
<polygon points="605.91,230.13 607.23,232.55 604.59,232.55" fill="#e8202a" stroke="#e8202a" stroke-width="0.3" stroke-linejoin="round"/>
<polygon points="612.42,232.54 613.75,234.96 611.1,234.96" fill="#e8202a" stroke="#e8202a" stroke-width="0.3" stroke-linejoin="round"/>
<polygon points="618.94,235.95 620.26,238.37 617.62,238.37" fill="#e8202a" stroke="#e8202a" stroke-width="0.3" stroke-linejoin="round"/>
<polygon points="625.45,239.46 626.77,241.88 624.13,241.88" fill="#e8202a" stroke="#e8202a" stroke-width="0.3" stroke-linejoin="round"/>
<polygon points="631.96,241.88 633.28,244.29 630.64,244.29" fill="#e8202a" stroke="#e8202a" stroke-width="0.3" stroke-linejoin="round"/>
<polygon points="638.48,245.29 639.8,247.7 637.15,247.7" fill="#e8202a" stroke="#e8202a" stroke-width="0.3" stroke-linejoin="round"/>
<polygon points="644.99,248.8 646.31,251.21 643.67,251.21" fill="#e8202a" stroke="#e8202a" stroke-width="0.3" stroke-linejoin="round"/>
<polygon points="651.5,251.21 652.82,253.62 650.18,253.62" fill="#e8202a" stroke="#e8202a" stroke-width="0.3" stroke-linejoin="round"/>
<polygon points="658.01,254.62 659.33,257.04 656.69,257.04" fill="#e8202a" stroke="#e8202a" stroke-width="0.3" stroke-linejoin="round"/>
<line x1="599.4" y1="230.5" x2="658.01" y2="260.3" stroke="#9b4fc8" stroke-width="0.9" />
<circle cx="599.4" cy="230.5" r="1.05" fill="#9b4fc8" stroke="#9b4fc8" stroke-width="0.3"/>
<circle cx="605.91" cy="234.21" r="1.05" fill="#9b4fc8" stroke="#9b4fc8" stroke-width="0.3"/>
<circle cx="612.42" cy="236.82" r="1.05" fill="#9b4fc8" stroke="#9b4fc8" stroke-width="0.3"/>
<circle cx="618.94" cy="240.43" r="1.05" fill="#9b4fc8" stroke="#9b4fc8" stroke-width="0.3"/>
<circle cx="625.45" cy="244.14" r="1.05" fill="#9b4fc8" stroke="#9b4fc8" stroke-width="0.3"/>
<circle cx="631.96" cy="246.76" r="1.05" fill="#9b4fc8" stroke="#9b4fc8" stroke-width="0.3"/>
<circle cx="638.48" cy="250.37" r="1.05" fill="#9b4fc8" stroke="#9b4fc8" stroke-width="0.3"/>
<circle cx="644.99" cy="254.08" r="1.05" fill="#9b4fc8" stroke="#9b4fc8" stroke-width="0.3"/>
<circle cx="651.5" cy="256.69" r="1.05" fill="#9b4fc8" stroke="#9b4fc8" stroke-width="0.3"/>
<circle cx="658.01" cy="260.3" r="1.05" fill="#9b4fc8" stroke="#9b4fc8" stroke-width="0.3"/>
<line x1="599.4" y1="235.8" x2="658.01" y2="266.3" stroke="#ff8c1a" stroke-width="0.9" />
<rect x="598.45" y="232.85" width="1.9" height="1.9" fill="#ff8c1a" stroke="#ff8c1a" stroke-width="0.3"/>
<rect x="604.96" y="238.15" width="1.9" height="1.9" fill="#ff8c1a" stroke="#ff8c1a" stroke-width="0.3"/>
<rect x="611.47" y="243.75" width="1.9" height="1.9" fill="#ff8c1a" stroke="#ff8c1a" stroke-width="0.3"/>
<rect x="617.99" y="247.75" width="1.9" height="1.9" fill="#ff8c1a" stroke="#ff8c1a" stroke-width="0.3"/>
<rect x="624.5" y="249.95" width="1.9" height="1.9" fill="#ff8c1a" stroke="#ff8c1a" stroke-width="0.3"/>
<rect x="631.01" y="253.45" width="1.9" height="1.9" fill="#ff8c1a" stroke="#ff8c1a" stroke-width="0.3"/>
<rect x="637.52" y="256.85" width="1.9" height="1.9" fill="#ff8c1a" stroke="#ff8c1a" stroke-width="0.3"/>
<rect x="644.04" y="259.45" width="1.9" height="1.9" fill="#ff8c1a" stroke="#ff8c1a" stroke-width="0.3"/>
<rect x="650.55" y="261.55" width="1.9" height="1.9" fill="#ff8c1a" stroke="#ff8c1a" stroke-width="0.3"/>
<rect x="657.06" y="265.35" width="1.9" height="1.9" fill="#ff8c1a" stroke="#ff8c1a" stroke-width="0.3"/>
<rect x="516.6" y="214.9" width="160.7" height="130.7" fill="none" stroke="#7a7a7a" stroke-width="1"/>
</svg>
</body></html>
